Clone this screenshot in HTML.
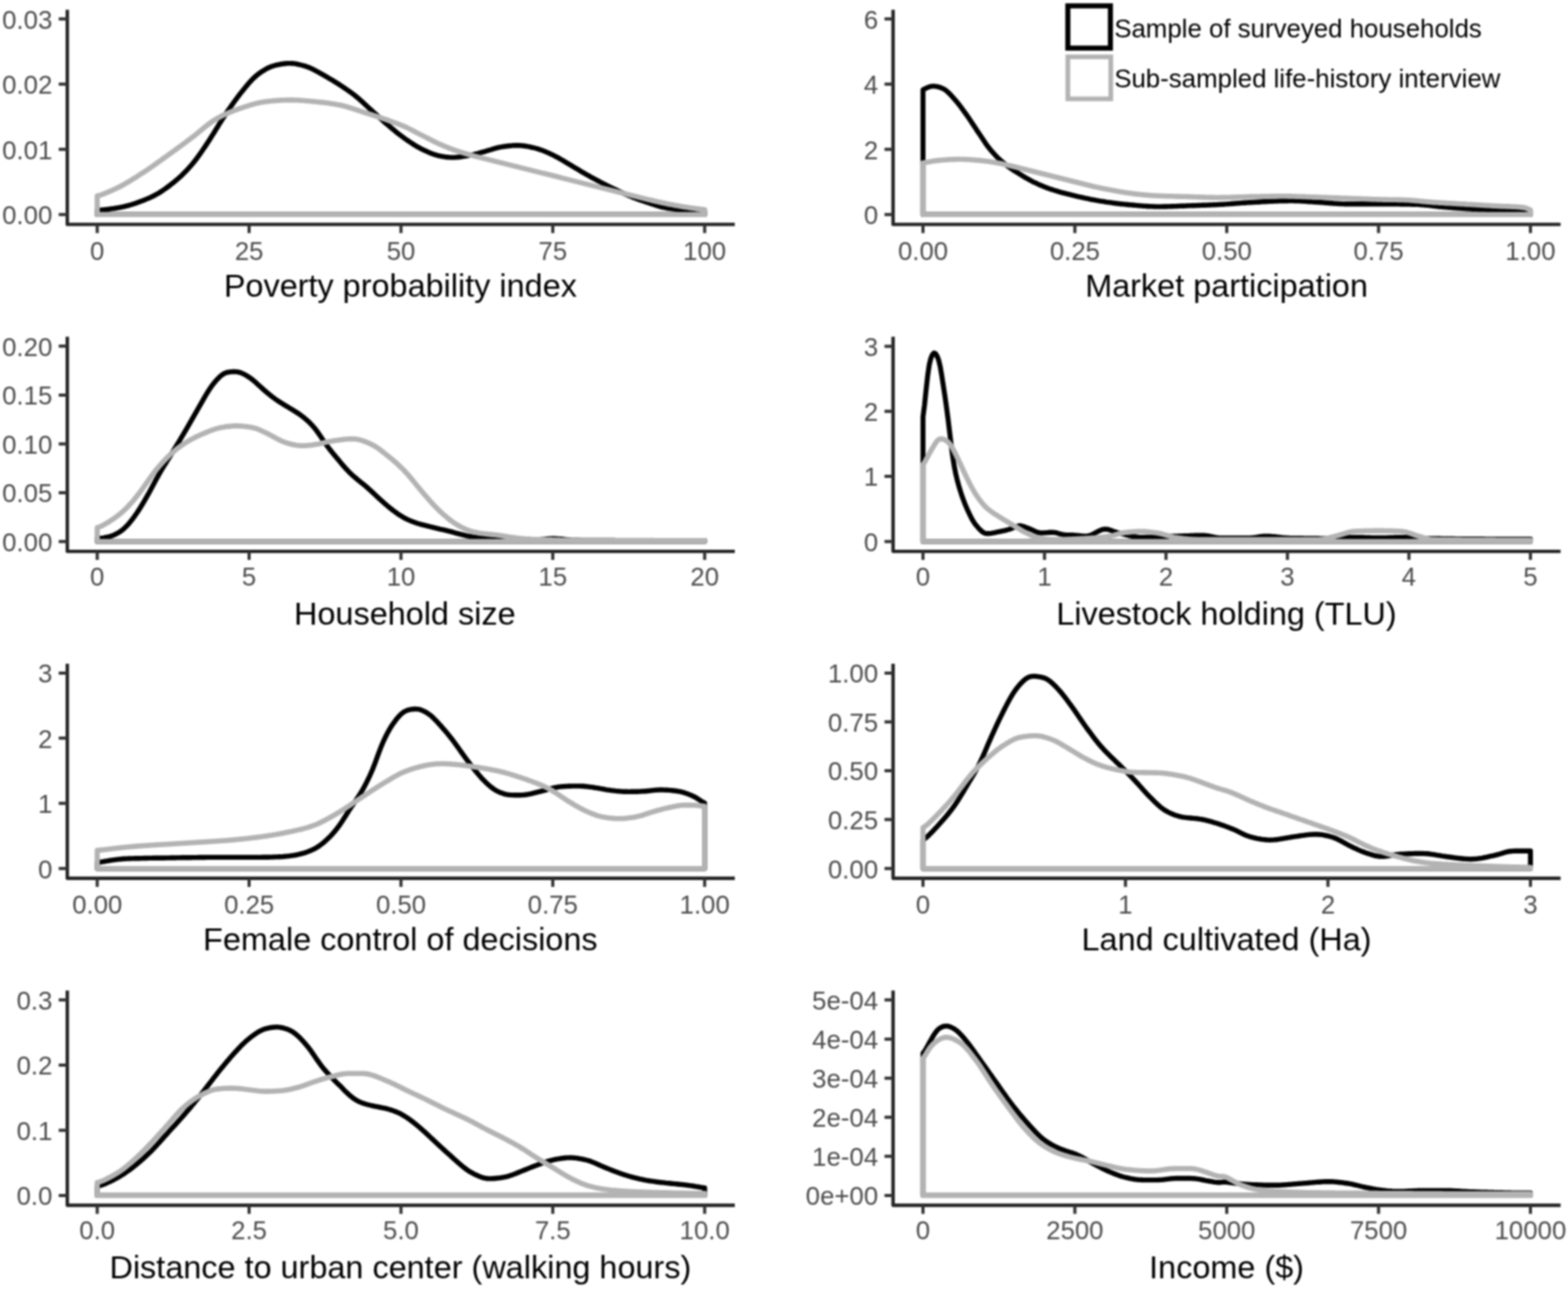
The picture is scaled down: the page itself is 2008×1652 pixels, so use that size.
<!DOCTYPE html>
<html><head><meta charset="utf-8"><title>Density plots</title><style>
html,body{margin:0;padding:0;background:#fff;}
body{width:2008px;height:1652px;overflow:hidden;}
svg{display:block;filter:blur(0.8px);}
text{font-family:"Liberation Sans",Arial,Helvetica,sans-serif;}
.tl{font-size:33.0px;fill:#4d4d4d;}
.tt{font-size:41.5px;fill:#000;}
.lg{font-size:33.1px;fill:#000;}
</style></head><body>
<svg width="2008" height="1652" viewBox="0 0 2008 1652">
<rect width="2008" height="1652" fill="#ffffff"/>
<g><path d="M124.5 274.8 L124.5 269.1 126.5 269 128.5 268.9 130.5 268.8 132.5 268.6 134.5 268.4 136.5 268.2 138.5 268 140.5 267.7 142.5 267.4 144.5 267.1 146.5 266.8 148.5 266.5 150.5 266.2 152.5 265.8 154.5 265.5 156.5 265 158.5 264.6 160.5 264.1 162.5 263.6 164.5 263.1 166.5 262.5 168.5 262 170.5 261.3 172.5 260.7 174.5 260 176.5 259.3 178.5 258.6 180.5 257.8 182.5 257.1 184.5 256.3 186.5 255.4 188.5 254.6 190.5 253.8 192.5 252.9 194.5 251.9 196.5 251 198.5 249.9 200.5 248.8 202.5 247.7 204.5 246.5 206.5 245.2 208.5 243.9 210.5 242.5 212.5 241.1 214.5 239.6 216.5 238.1 218.5 236.6 220.5 235 222.5 233.4 224.5 231.8 226.5 230.1 228.5 228.4 230.5 226.6 232.5 224.8 234.5 222.8 236.5 220.8 238.5 218.8 240.5 216.6 242.5 214.4 244.5 212.2 246.5 209.8 248.5 207.4 250.5 204.8 252.5 202.2 254.5 199.4 256.5 196.6 258.5 193.7 260.5 190.8 262.5 187.9 264.5 184.9 266.5 181.8 268.5 178.7 270.5 175.6 272.5 172.4 274.5 169.2 276.5 165.9 278.5 162.7 280.5 159.4 282.5 156.2 284.5 153 286.5 149.9 288.5 146.9 290.5 143.9 292.5 140.9 294.5 138 296.5 135.1 298.5 132.3 300.5 129.5 302.5 126.8 304.5 124.1 306.5 121.5 308.5 118.9 310.5 116.4 312.5 113.9 314.5 111.5 316.5 109.1 318.5 106.7 320.5 104.5 322.5 102.3 324.5 100.3 326.5 98.5 328.5 96.7 330.5 95.1 332.5 93.6 334.5 92.2 336.5 90.9 338.5 89.7 340.5 88.5 342.5 87.4 344.5 86.5 346.5 85.6 348.5 84.9 350.5 84.3 352.5 83.7 354.5 83.2 356.5 82.8 358.5 82.4 360.5 82 362.5 81.7 364.5 81.5 366.5 81.3 368.5 81.1 370.5 81.1 372.5 81.1 374.5 81.2 376.5 81.4 378.5 81.7 380.5 82.1 382.5 82.5 384.5 83 386.5 83.5 388.5 84 390.5 84.6 392.5 85.3 394.5 86 396.5 86.8 398.5 87.6 400.5 88.6 402.5 89.6 404.5 90.7 406.5 91.8 408.5 92.9 410.5 94 412.5 95.1 414.5 96.3 416.5 97.4 418.5 98.5 420.5 99.7 422.5 100.9 424.5 102.1 426.5 103.3 428.5 104.5 430.5 105.8 432.5 107 434.5 108.3 436.5 109.6 438.5 110.9 440.5 112.3 442.5 113.6 444.5 115 446.5 116.4 448.5 117.8 450.5 119.3 452.5 120.8 454.5 122.3 456.5 124 458.5 125.6 460.5 127.3 462.5 129.1 464.5 130.9 466.5 132.8 468.5 134.6 470.5 136.5 472.5 138.4 474.5 140.2 476.5 142 478.5 143.9 480.5 145.7 482.5 147.5 484.5 149.3 486.5 151.1 488.5 152.9 490.5 154.7 492.5 156.5 494.5 158.2 496.5 159.9 498.5 161.6 500.5 163.3 502.5 165 504.5 166.6 506.5 168.3 508.5 169.9 510.5 171.5 512.5 173 514.5 174.5 516.5 176 518.5 177.5 520.5 178.9 522.5 180.2 524.5 181.6 526.5 182.9 528.5 184.2 530.5 185.5 532.5 186.7 534.5 187.9 536.5 189 538.5 190.1 540.5 191.1 542.5 192.1 544.5 193 546.5 193.9 548.5 194.8 550.5 195.7 552.5 196.5 554.5 197.2 556.5 197.9 558.5 198.5 560.5 199.1 562.5 199.5 564.5 200 566.5 200.3 568.5 200.7 570.5 201 572.5 201.2 574.5 201.4 576.5 201.6 578.5 201.6 580.5 201.6 582.5 201.6 584.5 201.4 586.5 201.3 588.5 201 590.5 200.8 592.5 200.4 594.5 200.1 596.5 199.8 598.5 199.4 600.5 199 602.5 198.6 604.5 198.2 606.5 197.8 608.5 197.3 610.5 196.8 612.5 196.3 614.5 195.7 616.5 195.2 618.5 194.7 620.5 194.1 622.5 193.5 624.5 192.9 626.5 192.3 628.5 191.7 630.5 191.1 632.5 190.4 634.5 189.9 636.5 189.3 638.5 188.8 640.5 188.4 642.5 188.1 644.5 187.7 646.5 187.5 648.5 187.2 650.5 187 652.5 186.8 654.5 186.6 656.5 186.4 658.5 186.3 660.5 186.2 662.5 186.2 664.5 186.3 666.5 186.4 668.5 186.5 670.5 186.8 672.5 187 674.5 187.4 676.5 187.7 678.5 188.1 680.5 188.6 682.5 189 684.5 189.5 686.5 190 688.5 190.6 690.5 191.2 692.5 191.9 694.5 192.6 696.5 193.4 698.5 194.2 700.5 195.1 702.5 195.9 704.5 196.8 706.5 197.8 708.5 198.7 710.5 199.8 712.5 200.8 714.5 201.9 716.5 203 718.5 204.2 720.5 205.3 722.5 206.5 724.5 207.7 726.5 208.9 728.5 210.1 730.5 211.2 732.5 212.5 734.5 213.7 736.5 214.9 738.5 216.1 740.5 217.3 742.5 218.5 744.5 219.7 746.5 220.9 748.5 222 750.5 223.2 752.5 224.3 754.5 225.4 756.5 226.6 758.5 227.7 760.5 228.7 762.5 229.8 764.5 230.9 766.5 231.9 768.5 233 770.5 234 772.5 235.1 774.5 236.1 776.5 237.1 778.5 238.1 780.5 239.1 782.5 240.1 784.5 241 786.5 242 788.5 242.9 790.5 243.9 792.5 244.8 794.5 245.8 796.5 246.7 798.5 247.6 800.5 248.5 802.5 249.4 804.5 250.2 806.5 251.1 808.5 251.9 810.5 252.7 812.5 253.5 814.5 254.2 816.5 255 818.5 255.7 820.5 256.4 822.5 257.1 824.5 257.8 826.5 258.5 828.5 259.1 830.5 259.8 832.5 260.5 834.5 261.1 836.5 261.8 838.5 262.4 840.5 263.1 842.5 263.7 844.5 264.3 846.5 264.8 848.5 265.3 850.5 265.7 852.5 266.1 854.5 266.5 856.5 266.8 858.5 267.1 860.5 267.4 862.5 267.6 864.5 267.9 866.5 268.1 868.5 268.3 870.5 268.5 872.5 268.7 874.5 268.8 876.5 269 878.5 269.1 880.5 269.2 882.5 269.3 884.5 269.4 886.5 269.5 888.5 269.6 890.5 269.7 892.5 269.8 894.5 270 896.5 270.2 898.5 270.5 900.5 270.7 902.4 271 L902.4 274.8 Z" fill="none" stroke="#000000" stroke-width="6.4" stroke-linejoin="round"/><path d="M124.5 274.8 L124.5 250.8 126.5 250.4 128.5 249.8 130.5 249.2 132.5 248.4 134.5 247.6 136.5 246.8 138.5 246 140.5 245.1 142.5 244.2 144.5 243.3 146.5 242.4 148.5 241.5 150.5 240.5 152.5 239.5 154.5 238.5 156.5 237.4 158.5 236.3 160.5 235.2 162.5 234 164.5 232.9 166.5 231.7 168.5 230.4 170.5 229.2 172.5 228 174.5 226.7 176.5 225.4 178.5 224.1 180.5 222.8 182.5 221.5 184.5 220.2 186.5 218.9 188.5 217.6 190.5 216.2 192.5 214.8 194.5 213.5 196.5 212.1 198.5 210.6 200.5 209.2 202.5 207.8 204.5 206.4 206.5 204.9 208.5 203.5 210.5 202 212.5 200.6 214.5 199.2 216.5 197.7 218.5 196.3 220.5 194.9 222.5 193.4 224.5 192 226.5 190.5 228.5 189 230.5 187.6 232.5 186.1 234.5 184.6 236.5 183.2 238.5 181.7 240.5 180.2 242.5 178.7 244.5 177.2 246.5 175.7 248.5 174.1 250.5 172.5 252.5 170.9 254.5 169.2 256.5 167.6 258.5 165.9 260.5 164.3 262.5 162.6 264.5 161 266.5 159.5 268.5 158 270.5 156.5 272.5 155.1 274.5 153.8 276.5 152.6 278.5 151.5 280.5 150.4 282.5 149.3 284.5 148.3 286.5 147.3 288.5 146.4 290.5 145.5 292.5 144.6 294.5 143.7 296.5 142.9 298.5 142.1 300.5 141.3 302.5 140.6 304.5 139.9 306.5 139.2 308.5 138.5 310.5 137.8 312.5 137.2 314.5 136.5 316.5 135.8 318.5 135.2 320.5 134.6 322.5 134 324.5 133.4 326.5 132.9 328.5 132.3 330.5 131.9 332.5 131.4 334.5 131 336.5 130.7 338.5 130.4 340.5 130.1 342.5 129.9 344.5 129.7 346.5 129.5 348.5 129.3 350.5 129.1 352.5 128.9 354.5 128.8 356.5 128.6 358.5 128.5 360.5 128.4 362.5 128.3 364.5 128.2 366.5 128.1 368.5 128.1 370.5 128.1 372.5 128.1 374.5 128.1 376.5 128.1 378.5 128.2 380.5 128.3 382.5 128.4 384.5 128.5 386.5 128.7 388.5 128.8 390.5 129 392.5 129.2 394.5 129.3 396.5 129.5 398.5 129.7 400.5 129.9 402.5 130.1 404.5 130.3 406.5 130.5 408.5 130.7 410.5 130.9 412.5 131.1 414.5 131.3 416.5 131.6 418.5 131.8 420.5 132.1 422.5 132.4 424.5 132.7 426.5 133 428.5 133.3 430.5 133.7 432.5 134 434.5 134.4 436.5 134.8 438.5 135.3 440.5 135.8 442.5 136.3 444.5 136.9 446.5 137.5 448.5 138.1 450.5 138.7 452.5 139.4 454.5 140 456.5 140.7 458.5 141.4 460.5 142 462.5 142.7 464.5 143.3 466.5 144 468.5 144.6 470.5 145.2 472.5 145.9 474.5 146.5 476.5 147.2 478.5 147.8 480.5 148.5 482.5 149.1 484.5 149.8 486.5 150.5 488.5 151.1 490.5 151.8 492.5 152.5 494.5 153.2 496.5 153.9 498.5 154.6 500.5 155.4 502.5 156.1 504.5 156.8 506.5 157.5 508.5 158.2 510.5 159 512.5 159.8 514.5 160.6 516.5 161.4 518.5 162.2 520.5 163.1 522.5 164.1 524.5 165.1 526.5 166.1 528.5 167.2 530.5 168.3 532.5 169.3 534.5 170.4 536.5 171.4 538.5 172.4 540.5 173.4 542.5 174.4 544.5 175.4 546.5 176.4 548.5 177.5 550.5 178.5 552.5 179.5 554.5 180.5 556.5 181.5 558.5 182.5 560.5 183.4 562.5 184.4 564.5 185.2 566.5 186.1 568.5 187 570.5 187.8 572.5 188.6 574.5 189.4 576.5 190.2 578.5 190.9 580.5 191.6 582.5 192.3 584.5 193 586.5 193.7 588.5 194.4 590.5 195 592.5 195.6 594.5 196.2 596.5 196.8 598.5 197.4 600.5 197.9 602.5 198.5 604.5 199 606.5 199.6 608.5 200.1 610.5 200.6 612.5 201.1 614.5 201.6 616.5 202.1 618.5 202.6 620.5 203.1 622.5 203.6 624.5 204.1 626.5 204.6 628.5 205.1 630.5 205.6 632.5 206.1 634.5 206.6 636.5 207.1 638.5 207.6 640.5 208.1 642.5 208.6 644.5 209.1 646.5 209.6 648.5 210.1 650.5 210.6 652.5 211.1 654.5 211.6 656.5 212.1 658.5 212.6 660.5 213.1 662.5 213.6 664.5 214.1 666.5 214.6 668.5 215.1 670.5 215.6 672.5 216.1 674.5 216.6 676.5 217.1 678.5 217.6 680.5 218.1 682.5 218.6 684.5 219.1 686.5 219.6 688.5 220.1 690.5 220.6 692.5 221.1 694.5 221.6 696.5 222.1 698.5 222.5 700.5 223 702.5 223.5 704.5 224 706.5 224.5 708.5 225 710.5 225.5 712.5 226 714.5 226.5 716.5 227 718.5 227.6 720.5 228.1 722.5 228.6 724.5 229.1 726.5 229.6 728.5 230.1 730.5 230.6 732.5 231.1 734.5 231.6 736.5 232.1 738.5 232.6 740.5 233.1 742.5 233.6 744.5 234.1 746.5 234.6 748.5 235.1 750.5 235.6 752.5 236.1 754.5 236.6 756.5 237.1 758.5 237.6 760.5 238.1 762.5 238.6 764.5 239.1 766.5 239.6 768.5 240.1 770.5 240.6 772.5 241.1 774.5 241.6 776.5 242.1 778.5 242.6 780.5 243.1 782.5 243.6 784.5 244.1 786.5 244.6 788.5 245.1 790.5 245.6 792.5 246.1 794.5 246.6 796.5 247.1 798.5 247.6 800.5 248.1 802.5 248.6 804.5 249.1 806.5 249.6 808.5 250.1 810.5 250.6 812.5 251.1 814.5 251.6 816.5 252.1 818.5 252.6 820.5 253.1 822.5 253.6 824.5 254.1 826.5 254.6 828.5 255.1 830.5 255.6 832.5 256.1 834.5 256.5 836.5 257 838.5 257.5 840.5 257.9 842.5 258.4 844.5 258.8 846.5 259.3 848.5 259.7 850.5 260.1 852.5 260.6 854.5 261 856.5 261.4 858.5 261.8 860.5 262.1 862.5 262.5 864.5 262.9 866.5 263.3 868.5 263.6 870.5 264 872.5 264.3 874.5 264.7 876.5 265 878.5 265.3 880.5 265.6 882.5 265.9 884.5 266.2 886.5 266.5 888.5 266.8 890.5 267.1 892.5 267.4 894.5 267.6 896.5 267.9 898.5 268.1 900.5 268.3 902.4 268.5 L902.4 274.8 Z" fill="none" stroke="#b3b3b3" stroke-width="6.6" stroke-linejoin="round"/><path d="M86.2 12.5 V287.4 H941" fill="none" stroke="#222" stroke-width="4.4" stroke-linejoin="round" stroke-linecap="butt"/><text x="67" y="287.1" text-anchor="end" class="tl">0.00</text><text x="67" y="203.6" text-anchor="end" class="tl">0.01</text><text x="67" y="120" text-anchor="end" class="tl">0.02</text><text x="67" y="36.5" text-anchor="end" class="tl">0.03</text><text x="124.5" y="332.6" text-anchor="middle" class="tl">0</text><text x="319" y="332.6" text-anchor="middle" class="tl">25</text><text x="513.5" y="332.6" text-anchor="middle" class="tl">50</text><text x="707.9" y="332.6" text-anchor="middle" class="tl">75</text><text x="902.4" y="332.6" text-anchor="middle" class="tl">100</text><path d="M75.2 274.8H86.2 M75.2 191.3H86.2 M75.2 107.7H86.2 M75.2 24.2H86.2 M124.5 287.4V298.4 M319 287.4V298.4 M513.5 287.4V298.4 M707.9 287.4V298.4 M902.4 287.4V298.4" stroke="#333" stroke-width="4.0" fill="none"/><text x="512.7" y="380.3" text-anchor="middle" class="tt">Poverty probability index</text></g>
<g><path d="M1182 274.8 L1182 114.8 1184 113.9 1186 113 1188 112 1190 111.3 1192 110.7 1194 110.4 1196 110.4 1198 110.6 1200 110.9 1202 111.4 1204 112 1206 112.8 1208 113.7 1210 114.8 1212 116.3 1214 118.1 1216 120 1218 122.2 1220 124.4 1222 126.6 1224 128.9 1226 131.3 1228 133.8 1230 136.4 1232 139.1 1234 141.8 1236 144.6 1238 147.4 1240 150.3 1242 153.2 1244 156.2 1246 159.3 1248 162.3 1250 165.3 1252 168.4 1254 171.3 1256 174.3 1258 177.3 1260 180.3 1262 183.3 1264 186.1 1266 188.8 1268 191.3 1270 193.7 1272 195.9 1274 198.1 1276 200.2 1278 202.2 1280 204.1 1282 205.9 1284 207.6 1286 209.3 1288 210.9 1290 212.4 1292 213.9 1294 215.3 1296 216.7 1298 218 1300 219.3 1302 220.6 1304 221.8 1306 223.1 1308 224.3 1310 225.5 1312 226.7 1314 227.9 1316 229 1318 230.1 1320 231.2 1322 232.3 1324 233.3 1326 234.2 1328 235.2 1330 236.1 1332 237 1334 237.8 1336 238.6 1338 239.5 1340 240.2 1342 241 1344 241.7 1346 242.4 1348 243 1350 243.7 1352 244.3 1354 244.9 1356 245.5 1358 246.1 1360 246.6 1362 247.2 1364 247.7 1366 248.2 1368 248.7 1370 249.2 1372 249.7 1374 250.2 1376 250.7 1378 251.1 1380 251.6 1382 252 1384 252.5 1386 252.9 1388 253.4 1390 253.8 1392 254.2 1394 254.6 1396 255.1 1398 255.5 1400 255.8 1402 256.2 1404 256.6 1406 256.9 1408 257.3 1410 257.6 1412 257.9 1414 258.2 1416 258.6 1418 258.9 1420 259.1 1422 259.4 1424 259.7 1426 260 1428 260.2 1430 260.5 1432 260.7 1434 261 1436 261.2 1438 261.4 1440 261.6 1442 261.8 1444 262 1446 262.2 1448 262.4 1450 262.5 1452 262.7 1454 262.9 1456 263.1 1458 263.3 1460 263.4 1462 263.6 1464 263.8 1466 263.9 1468 264 1470 264.2 1472 264.3 1474 264.4 1476 264.4 1478 264.5 1480 264.6 1482 264.6 1484 264.6 1486 264.6 1488 264.6 1490 264.5 1492 264.5 1494 264.5 1496 264.4 1498 264.4 1500 264.3 1502 264.2 1504 264.1 1506 264.1 1508 264 1510 263.9 1512 263.8 1514 263.7 1516 263.7 1518 263.6 1520 263.5 1522 263.4 1524 263.4 1526 263.3 1528 263.2 1530 263.2 1532 263.1 1534 263 1536 263 1538 262.9 1540 262.8 1542 262.8 1544 262.7 1546 262.6 1548 262.5 1550 262.5 1552 262.4 1554 262.3 1556 262.2 1558 262.1 1560 262 1562 261.9 1564 261.8 1566 261.7 1568 261.6 1570 261.4 1572 261.3 1574 261.1 1576 261 1578 260.8 1580 260.7 1582 260.5 1584 260.4 1586 260.2 1588 260.1 1590 259.9 1592 259.8 1594 259.7 1596 259.5 1598 259.4 1600 259.3 1602 259.2 1604 259.1 1606 259 1608 258.9 1610 258.8 1612 258.7 1614 258.5 1616 258.4 1618 258.3 1620 258.2 1622 258.1 1624 258 1626 257.9 1628 257.8 1630 257.7 1632 257.6 1634 257.6 1636 257.5 1638 257.4 1640 257.3 1642 257.3 1644 257.2 1646 257.2 1648 257.2 1650 257.1 1652 257.1 1654 257.1 1656 257.1 1658 257.2 1660 257.2 1662 257.3 1664 257.4 1666 257.5 1668 257.6 1670 257.7 1672 257.9 1674 258 1676 258.2 1678 258.3 1680 258.4 1682 258.6 1684 258.7 1686 258.8 1688 259 1690 259.1 1692 259.2 1694 259.4 1696 259.5 1698 259.7 1700 259.8 1702 260 1704 260.2 1706 260.3 1708 260.5 1710 260.6 1712 260.7 1714 260.9 1716 261 1718 261.1 1720 261.1 1722 261.2 1724 261.3 1726 261.3 1728 261.3 1730 261.3 1732 261.3 1734 261.3 1736 261.3 1738 261.3 1740 261.3 1742 261.3 1744 261.3 1746 261.3 1748 261.3 1750 261.3 1752 261.3 1754 261.3 1756 261.3 1758 261.3 1760 261.3 1762 261.3 1764 261.3 1766 261.3 1768 261.3 1770 261.3 1772 261.3 1774 261.3 1776 261.3 1778 261.3 1780 261.3 1782 261.3 1784 261.4 1786 261.4 1788 261.4 1790 261.4 1792 261.4 1794 261.5 1796 261.5 1798 261.5 1800 261.5 1802 261.6 1804 261.6 1806 261.6 1808 261.7 1810 261.7 1812 261.7 1814 261.8 1816 261.9 1818 262 1820 262.2 1822 262.3 1824 262.5 1826 262.7 1828 262.9 1830 263.1 1832 263.3 1834 263.6 1836 263.8 1838 264 1840 264.2 1842 264.5 1844 264.7 1846 264.9 1848 265.1 1850 265.3 1852 265.4 1854 265.6 1856 265.7 1858 265.9 1860 266 1862 266.2 1864 266.3 1866 266.5 1868 266.6 1870 266.7 1872 266.9 1874 267 1876 267.1 1878 267.3 1880 267.4 1882 267.5 1884 267.6 1886 267.7 1888 267.8 1890 267.9 1892 267.9 1894 268 1896 268 1898 268.1 1900 268.1 1902 268.1 1904 268.2 1906 268.2 1908 268.2 1910 268.2 1912 268.2 1914 268.3 1916 268.3 1918 268.3 1920 268.3 1922 268.3 1924 268.4 1926 268.4 1928 268.4 1930 268.5 1932 268.5 1934 268.5 1936 268.6 1938 268.7 1940 268.8 1942 268.9 1944 269 1946 269.2 1948 269.4 1950 269.6 1952 269.8 1954 270 1956 270.2 1958 270.4 1959.9 270.6 L1959.9 274.8 Z" fill="none" stroke="#000000" stroke-width="6.4" stroke-linejoin="round"/><path d="M1182 274.8 L1182 208.5 1184 208.3 1186 207.9 1188 207.6 1190 207.2 1192 206.8 1194 206.5 1196 206.1 1198 205.9 1200 205.6 1202 205.4 1204 205.2 1206 205 1208 204.9 1210 204.7 1212 204.6 1214 204.4 1216 204.3 1218 204.2 1220 204.1 1222 204.1 1224 204 1226 204 1228 203.9 1230 204 1232 204 1234 204 1236 204.1 1238 204.2 1240 204.3 1242 204.5 1244 204.6 1246 204.8 1248 204.9 1250 205.1 1252 205.3 1254 205.4 1256 205.6 1258 205.8 1260 206.1 1262 206.3 1264 206.6 1266 206.8 1268 207.1 1270 207.4 1272 207.7 1274 208 1276 208.4 1278 208.8 1280 209.2 1282 209.6 1284 210 1286 210.5 1288 210.9 1290 211.4 1292 211.9 1294 212.3 1296 212.8 1298 213.3 1300 213.8 1302 214.3 1304 214.8 1306 215.3 1308 215.8 1310 216.3 1312 216.8 1314 217.3 1316 217.8 1318 218.3 1320 218.8 1322 219.3 1324 219.8 1326 220.3 1328 220.8 1330 221.3 1332 221.8 1334 222.3 1336 222.8 1338 223.3 1340 223.8 1342 224.3 1344 224.8 1346 225.3 1348 225.8 1350 226.3 1352 226.8 1354 227.3 1356 227.8 1358 228.3 1360 228.8 1362 229.3 1364 229.8 1366 230.3 1368 230.8 1370 231.3 1372 231.8 1374 232.3 1376 232.8 1378 233.3 1380 233.8 1382 234.3 1384 234.8 1386 235.3 1388 235.8 1390 236.3 1392 236.8 1394 237.3 1396 237.8 1398 238.3 1400 238.8 1402 239.2 1404 239.6 1406 240.1 1408 240.5 1410 240.9 1412 241.3 1414 241.7 1416 242.1 1418 242.4 1420 242.8 1422 243.2 1424 243.6 1426 243.9 1428 244.3 1430 244.7 1432 245 1434 245.4 1436 245.7 1438 246.1 1440 246.4 1442 246.7 1444 247.1 1446 247.3 1448 247.6 1450 247.9 1452 248.1 1454 248.4 1456 248.6 1458 248.8 1460 249 1462 249.2 1464 249.4 1466 249.6 1468 249.7 1470 249.9 1472 250.1 1474 250.2 1476 250.4 1478 250.5 1480 250.6 1482 250.7 1484 250.8 1486 250.9 1488 251 1490 251 1492 251.1 1494 251.2 1496 251.2 1498 251.3 1500 251.3 1502 251.4 1504 251.5 1506 251.5 1508 251.6 1510 251.6 1512 251.7 1514 251.7 1516 251.7 1518 251.8 1520 251.8 1522 251.9 1524 252 1526 252 1528 252.1 1530 252.2 1532 252.2 1534 252.3 1536 252.4 1538 252.5 1540 252.5 1542 252.6 1544 252.7 1546 252.8 1548 252.8 1550 252.9 1552 252.9 1554 252.9 1556 253 1558 253 1560 253 1562 253 1564 252.9 1566 252.9 1568 252.9 1570 252.8 1572 252.8 1574 252.7 1576 252.7 1578 252.6 1580 252.6 1582 252.5 1584 252.4 1586 252.4 1588 252.3 1590 252.2 1592 252.2 1594 252.1 1596 252 1598 252 1600 251.9 1602 251.9 1604 251.9 1606 251.8 1608 251.8 1610 251.7 1612 251.7 1614 251.7 1616 251.6 1618 251.6 1620 251.6 1622 251.5 1624 251.5 1626 251.5 1628 251.4 1630 251.4 1632 251.4 1634 251.4 1636 251.3 1638 251.3 1640 251.3 1642 251.3 1644 251.3 1646 251.3 1648 251.3 1650 251.4 1652 251.4 1654 251.4 1656 251.5 1658 251.5 1660 251.6 1662 251.7 1664 251.7 1666 251.8 1668 251.9 1670 251.9 1672 252 1674 252.1 1676 252.2 1678 252.2 1680 252.3 1682 252.4 1684 252.4 1686 252.5 1688 252.6 1690 252.6 1692 252.7 1694 252.8 1696 252.9 1698 252.9 1700 253 1702 253.1 1704 253.1 1706 253.2 1708 253.3 1710 253.4 1712 253.4 1714 253.5 1716 253.6 1718 253.7 1720 253.7 1722 253.8 1724 253.9 1726 254 1728 254 1730 254.1 1732 254.2 1734 254.3 1736 254.3 1738 254.4 1740 254.5 1742 254.6 1744 254.6 1746 254.7 1748 254.8 1750 254.9 1752 254.9 1754 255 1756 255.1 1758 255.2 1760 255.2 1762 255.3 1764 255.4 1766 255.4 1768 255.5 1770 255.5 1772 255.6 1774 255.6 1776 255.6 1778 255.7 1780 255.7 1782 255.7 1784 255.8 1786 255.8 1788 255.8 1790 255.9 1792 255.9 1794 255.9 1796 256 1798 256 1800 256.1 1802 256.2 1804 256.3 1806 256.4 1808 256.6 1810 256.7 1812 256.9 1814 257.1 1816 257.3 1818 257.5 1820 257.7 1822 257.9 1824 258.1 1826 258.3 1828 258.5 1830 258.6 1832 258.8 1834 258.9 1836 259.1 1838 259.2 1840 259.3 1842 259.5 1844 259.6 1846 259.7 1848 259.8 1850 259.9 1852 260.1 1854 260.2 1856 260.3 1858 260.4 1860 260.5 1862 260.6 1864 260.7 1866 260.9 1868 261 1870 261.1 1872 261.2 1874 261.3 1876 261.4 1878 261.6 1880 261.7 1882 261.8 1884 261.9 1886 262 1888 262.1 1890 262.3 1892 262.4 1894 262.5 1896 262.6 1898 262.7 1900 262.9 1902 263 1904 263.1 1906 263.2 1908 263.3 1910 263.5 1912 263.6 1914 263.7 1916 263.8 1918 263.9 1920 264 1922 264.1 1924 264.2 1926 264.2 1928 264.3 1930 264.4 1932 264.4 1934 264.5 1936 264.6 1938 264.7 1940 264.8 1942 264.9 1944 265 1946 265.2 1948 265.4 1950 265.6 1952 265.9 1954 266.4 1956 267.2 1958 268.1 1959.9 269 L1959.9 274.8 Z" fill="none" stroke="#b3b3b3" stroke-width="6.6" stroke-linejoin="round"/><path d="M1143.7 12.5 V287.4 H1998.5" fill="none" stroke="#222" stroke-width="4.4" stroke-linejoin="round" stroke-linecap="butt"/><text x="1124.5" y="287.1" text-anchor="end" class="tl">0</text><text x="1124.5" y="203.6" text-anchor="end" class="tl">2</text><text x="1124.5" y="120" text-anchor="end" class="tl">4</text><text x="1124.5" y="36.5" text-anchor="end" class="tl">6</text><text x="1182" y="332.6" text-anchor="middle" class="tl">0.00</text><text x="1376.5" y="332.6" text-anchor="middle" class="tl">0.25</text><text x="1571" y="332.6" text-anchor="middle" class="tl">0.50</text><text x="1765.4" y="332.6" text-anchor="middle" class="tl">0.75</text><text x="1959.9" y="332.6" text-anchor="middle" class="tl">1.00</text><path d="M1132.7 274.8H1143.7 M1132.7 191.3H1143.7 M1132.7 107.7H1143.7 M1132.7 24.2H1143.7 M1182 287.4V298.4 M1376.5 287.4V298.4 M1571 287.4V298.4 M1765.4 287.4V298.4 M1959.9 287.4V298.4" stroke="#333" stroke-width="4.0" fill="none"/><text x="1570.7" y="380.3" text-anchor="middle" class="tt">Market participation</text></g>
<g><path d="M124.5 693.5 L124.5 689.6 126.5 689.5 128.5 689.3 130.5 689.1 132.5 688.8 134.5 688.4 136.5 688 138.5 687.5 140.5 687 142.5 686.4 144.5 685.7 146.5 684.8 148.5 683.9 150.5 682.8 152.5 681.7 154.5 680.3 156.5 678.9 158.5 677.2 160.5 675.3 162.5 673.3 164.5 671.1 166.5 668.7 168.5 666.2 170.5 663.6 172.5 660.9 174.5 658 176.5 655.1 178.5 652 180.5 648.8 182.5 645.5 184.5 642.2 186.5 638.7 188.5 635.2 190.5 631.7 192.5 628 194.5 624.3 196.5 620.6 198.5 616.8 200.5 613.1 202.5 609.5 204.5 605.9 206.5 602.5 208.5 599.2 210.5 595.9 212.5 592.7 214.5 589.4 216.5 586.2 218.5 583 220.5 579.8 222.5 576.5 224.5 573.2 226.5 569.9 228.5 566.6 230.5 563.3 232.5 559.9 234.5 556.6 236.5 553.2 238.5 549.8 240.5 546.4 242.5 542.9 244.5 539.4 246.5 535.9 248.5 532.4 250.5 528.9 252.5 525.4 254.5 521.9 256.5 518.4 258.5 514.9 260.5 511.4 262.5 507.9 264.5 504.5 266.5 501.3 268.5 498.1 270.5 495.2 272.5 492.5 274.5 490 276.5 487.6 278.5 485.4 280.5 483.4 282.5 481.5 284.5 480 286.5 478.7 288.5 477.7 290.5 477 292.5 476.6 294.5 476.3 296.5 476.1 298.5 476 300.5 475.9 302.5 476.1 304.5 476.3 306.5 476.8 308.5 477.4 310.5 478.3 312.5 479.2 314.5 480.3 316.5 481.5 318.5 482.8 320.5 484.1 322.5 485.6 324.5 487.2 326.5 488.9 328.5 490.7 330.5 492.6 332.5 494.4 334.5 496.2 336.5 498 338.5 499.8 340.5 501.5 342.5 503.2 344.5 504.8 346.5 506.4 348.5 508 350.5 509.5 352.5 511 354.5 512.4 356.5 513.7 358.5 515 360.5 516.3 362.5 517.5 364.5 518.7 366.5 519.9 368.5 521.1 370.5 522.4 372.5 523.6 374.5 524.8 376.5 526 378.5 527.2 380.5 528.5 382.5 529.8 384.5 531.2 386.5 532.7 388.5 534.2 390.5 535.9 392.5 537.6 394.5 539.4 396.5 541.3 398.5 543.4 400.5 545.5 402.5 547.8 404.5 550.3 406.5 553 408.5 555.8 410.5 558.7 412.5 561.7 414.5 564.7 416.5 567.7 418.5 570.5 420.5 573.2 422.5 575.8 424.5 578.3 426.5 580.7 428.5 583.1 430.5 585.5 432.5 587.9 434.5 590.3 436.5 592.7 438.5 595.1 440.5 597.4 442.5 599.7 444.5 601.8 446.5 603.9 448.5 605.9 450.5 607.8 452.5 609.6 454.5 611.3 456.5 613 458.5 614.7 460.5 616.3 462.5 617.9 464.5 619.5 466.5 621.1 468.5 622.8 470.5 624.5 472.5 626.3 474.5 628.1 476.5 630 478.5 631.8 480.5 633.7 482.5 635.6 484.5 637.5 486.5 639.3 488.5 641.1 490.5 642.9 492.5 644.7 494.5 646.4 496.5 648.1 498.5 649.8 500.5 651.4 502.5 652.9 504.5 654.5 506.5 655.9 508.5 657.4 510.5 658.8 512.5 660.1 514.5 661.3 516.5 662.5 518.5 663.6 520.5 664.6 522.5 665.6 524.5 666.4 526.5 667.3 528.5 668.1 530.5 668.8 532.5 669.5 534.5 670.2 536.5 670.8 538.5 671.4 540.5 671.9 542.5 672.4 544.5 672.9 546.5 673.4 548.5 673.9 550.5 674.4 552.5 674.8 554.5 675.3 556.5 675.8 558.5 676.3 560.5 676.8 562.5 677.3 564.5 677.8 566.5 678.2 568.5 678.7 570.5 679.2 572.5 679.7 574.5 680.2 576.5 680.7 578.5 681.2 580.5 681.7 582.5 682.3 584.5 682.8 586.5 683.3 588.5 683.9 590.5 684.4 592.5 684.9 594.5 685.4 596.5 685.9 598.5 686.3 600.5 686.7 602.5 687 604.5 687.4 606.5 687.7 608.5 688 610.5 688.2 612.5 688.5 614.5 688.7 616.5 688.9 618.5 689.1 620.5 689.3 622.5 689.5 624.5 689.7 626.5 689.9 628.5 690.1 630.5 690.3 632.5 690.5 634.5 690.6 636.5 690.8 638.5 691 640.5 691.1 642.5 691.3 644.5 691.4 646.5 691.5 648.5 691.6 650.5 691.7 652.5 691.7 654.5 691.7 656.5 691.8 658.5 691.8 660.5 691.8 662.5 691.8 664.5 691.8 666.5 691.8 668.5 691.8 670.5 691.8 672.5 691.8 674.5 691.8 676.5 691.8 678.5 691.8 680.5 691.8 682.5 691.8 684.5 691.7 686.5 691.6 688.5 691.5 690.5 691.3 692.5 691 694.5 690.8 696.5 690.6 698.5 690.4 700.5 690.2 702.5 690 704.5 689.9 706.5 689.8 708.5 689.8 710.5 689.8 712.5 689.9 714.5 690 716.5 690.1 718.5 690.2 720.5 690.4 722.5 690.7 724.5 690.9 726.5 691.1 728.5 691.3 730.5 691.5 732.5 691.6 734.5 691.7 736.5 691.8 738.5 691.8 740.5 691.8 742.5 691.8 744.5 691.9 746.5 691.9 748.5 691.9 750.5 691.9 752.5 691.9 754.5 691.9 756.5 691.9 758.5 691.9 760.5 691.9 762.5 692 764.5 692 766.5 692 768.5 692 770.5 692 772.5 692 774.5 692 776.5 692 778.5 692 780.5 692 782.5 692 784.5 692 786.5 692 788.5 692.1 790.5 692.1 792.5 692.1 794.5 692.1 796.5 692.1 798.5 692.1 800.5 692.1 802.5 692.1 804.5 692.1 806.5 692.1 808.5 692.1 810.5 692.1 812.5 692.1 814.5 692.1 816.5 692.1 818.5 692.1 820.5 692.1 822.5 692.1 824.5 692.1 826.5 692.1 828.5 692.2 830.5 692.2 832.5 692.2 834.5 692.2 836.5 692.2 838.5 692.2 840.5 692.2 842.5 692.2 844.5 692.2 846.5 692.2 848.5 692.2 850.5 692.2 852.5 692.2 854.5 692.2 856.5 692.2 858.5 692.2 860.5 692.2 862.5 692.2 864.5 692.2 866.5 692.2 868.5 692.2 870.5 692.2 872.5 692.2 874.5 692.2 876.5 692.2 878.5 692.2 880.5 692.2 882.5 692.2 884.5 692.2 886.5 692.2 888.5 692.2 890.5 692.2 892.5 692.2 894.5 692.2 896.5 692.2 898.5 692.2 900.5 692.2 902.4 692.2 L902.4 693.5 Z" fill="none" stroke="#000000" stroke-width="6.4" stroke-linejoin="round"/><path d="M124.5 693.5 L124.5 675.7 126.5 675.1 128.5 674.3 130.5 673.4 132.5 672.3 134.5 671.2 136.5 670.1 138.5 668.8 140.5 667.6 142.5 666.3 144.5 665 146.5 663.6 148.5 662.1 150.5 660.6 152.5 659.1 154.5 657.4 156.5 655.7 158.5 653.9 160.5 652.1 162.5 650.1 164.5 648 166.5 645.8 168.5 643.6 170.5 641.3 172.5 638.9 174.5 636.4 176.5 633.9 178.5 631.3 180.5 628.7 182.5 625.9 184.5 623 186.5 620.2 188.5 617.3 190.5 614.4 192.5 611.6 194.5 608.8 196.5 606.2 198.5 603.6 200.5 601.1 202.5 598.7 204.5 596.4 206.5 594.1 208.5 591.8 210.5 589.6 212.5 587.6 214.5 585.5 216.5 583.6 218.5 581.7 220.5 579.9 222.5 578.2 224.5 576.5 226.5 574.9 228.5 573.4 230.5 571.9 232.5 570.4 234.5 569 236.5 567.7 238.5 566.4 240.5 565.2 242.5 564.1 244.5 562.9 246.5 561.9 248.5 560.8 250.5 559.8 252.5 558.8 254.5 557.9 256.5 557 258.5 556.1 260.5 555.3 262.5 554.4 264.5 553.6 266.5 552.8 268.5 552 270.5 551.2 272.5 550.5 274.5 549.8 276.5 549.2 278.5 548.6 280.5 548.1 282.5 547.7 284.5 547.3 286.5 547 288.5 546.6 290.5 546.3 292.5 546.1 294.5 545.9 296.5 545.7 298.5 545.5 300.5 545.4 302.5 545.4 304.5 545.4 306.5 545.5 308.5 545.6 310.5 545.8 312.5 546 314.5 546.2 316.5 546.4 318.5 546.7 320.5 547 322.5 547.4 324.5 547.8 326.5 548.4 328.5 549 330.5 549.7 332.5 550.6 334.5 551.5 336.5 552.4 338.5 553.4 340.5 554.3 342.5 555.3 344.5 556.3 346.5 557.4 348.5 558.4 350.5 559.5 352.5 560.6 354.5 561.7 356.5 562.8 358.5 563.8 360.5 564.7 362.5 565.5 364.5 566.3 366.5 567 368.5 567.6 370.5 568.2 372.5 568.7 374.5 569.2 376.5 569.6 378.5 570 380.5 570.3 382.5 570.5 384.5 570.7 386.5 570.7 388.5 570.7 390.5 570.7 392.5 570.5 394.5 570.4 396.5 570.2 398.5 570 400.5 569.7 402.5 569.4 404.5 569.1 406.5 568.8 408.5 568.4 410.5 568 412.5 567.5 414.5 567 416.5 566.6 418.5 566.1 420.5 565.7 422.5 565.3 424.5 565 426.5 564.6 428.5 564.3 430.5 564 432.5 563.7 434.5 563.4 436.5 563.2 438.5 562.9 440.5 562.7 442.5 562.5 444.5 562.3 446.5 562.2 448.5 562.1 450.5 562.1 452.5 562.1 454.5 562.2 456.5 562.4 458.5 562.8 460.5 563.2 462.5 563.8 464.5 564.4 466.5 565.1 468.5 565.9 470.5 566.7 472.5 567.6 474.5 568.5 476.5 569.5 478.5 570.6 480.5 571.7 482.5 573 484.5 574.4 486.5 575.8 488.5 577.3 490.5 578.9 492.5 580.5 494.5 582.1 496.5 583.7 498.5 585.3 500.5 586.9 502.5 588.6 504.5 590.3 506.5 592.1 508.5 593.8 510.5 595.7 512.5 597.6 514.5 599.5 516.5 601.5 518.5 603.6 520.5 605.7 522.5 607.9 524.5 610.3 526.5 612.6 528.5 615.1 530.5 617.5 532.5 620 534.5 622.5 536.5 624.9 538.5 627.4 540.5 629.7 542.5 632.1 544.5 634.4 546.5 636.7 548.5 639 550.5 641.3 552.5 643.5 554.5 645.7 556.5 647.9 558.5 649.9 560.5 651.9 562.5 653.9 564.5 655.8 566.5 657.6 568.5 659.4 570.5 661.1 572.5 662.8 574.5 664.5 576.5 666 578.5 667.5 580.5 668.9 582.5 670.2 584.5 671.5 586.5 672.7 588.5 673.8 590.5 674.9 592.5 675.9 594.5 676.9 596.5 677.8 598.5 678.7 600.5 679.4 602.5 680.1 604.5 680.7 606.5 681.2 608.5 681.6 610.5 682 612.5 682.4 614.5 682.7 616.5 683 618.5 683.2 620.5 683.5 622.5 683.7 624.5 683.9 626.5 684.2 628.5 684.4 630.5 684.6 632.5 684.8 634.5 685 636.5 685.3 638.5 685.5 640.5 685.8 642.5 686.1 644.5 686.4 646.5 686.7 648.5 687 650.5 687.4 652.5 687.7 654.5 688 656.5 688.3 658.5 688.6 660.5 688.9 662.5 689.1 664.5 689.4 666.5 689.6 668.5 689.8 670.5 689.9 672.5 690.1 674.5 690.2 676.5 690.3 678.5 690.4 680.5 690.6 682.5 690.7 684.5 690.7 686.5 690.8 688.5 690.9 690.5 691 692.5 691 694.5 691.1 696.5 691.2 698.5 691.2 700.5 691.3 702.5 691.3 704.5 691.4 706.5 691.4 708.5 691.5 710.5 691.5 712.5 691.6 714.5 691.6 716.5 691.6 718.5 691.7 720.5 691.7 722.5 691.7 724.5 691.7 726.5 691.8 728.5 691.8 730.5 691.8 732.5 691.8 734.5 691.8 736.5 691.8 738.5 691.8 740.5 691.8 742.5 691.9 744.5 691.9 746.5 691.9 748.5 691.9 750.5 691.9 752.5 691.9 754.5 691.9 756.5 691.9 758.5 691.9 760.5 691.9 762.5 691.9 764.5 692 766.5 692 768.5 692 770.5 692 772.5 692 774.5 692 776.5 692 778.5 692 780.5 692 782.5 692 784.5 692 786.5 692 788.5 692 790.5 692 792.5 692 794.5 692.1 796.5 692.1 798.5 692.1 800.5 692.1 802.5 692.1 804.5 692.1 806.5 692.1 808.5 692.1 810.5 692.1 812.5 692.1 814.5 692.1 816.5 692.1 818.5 692.1 820.5 692.1 822.5 692.1 824.5 692.1 826.5 692.1 828.5 692.1 830.5 692.1 832.5 692.1 834.5 692.1 836.5 692.1 838.5 692.2 840.5 692.2 842.5 692.2 844.5 692.2 846.5 692.2 848.5 692.2 850.5 692.2 852.5 692.2 854.5 692.2 856.5 692.2 858.5 692.2 860.5 692.2 862.5 692.2 864.5 692.2 866.5 692.2 868.5 692.2 870.5 692.2 872.5 692.2 874.5 692.2 876.5 692.2 878.5 692.2 880.5 692.2 882.5 692.2 884.5 692.2 886.5 692.2 888.5 692.2 890.5 692.2 892.5 692.2 894.5 692.2 896.5 692.2 898.5 692.2 900.5 692.2 902.4 692.2 L902.4 693.5 Z" fill="none" stroke="#b3b3b3" stroke-width="6.6" stroke-linejoin="round"/><path d="M86.2 431.2 V706.1 H941" fill="none" stroke="#222" stroke-width="4.4" stroke-linejoin="round" stroke-linecap="butt"/><text x="67" y="705.8" text-anchor="end" class="tl">0.00</text><text x="67" y="643.2" text-anchor="end" class="tl">0.05</text><text x="67" y="580.7" text-anchor="end" class="tl">0.10</text><text x="67" y="518.1" text-anchor="end" class="tl">0.15</text><text x="67" y="455.6" text-anchor="end" class="tl">0.20</text><text x="124.5" y="749.6" text-anchor="middle" class="tl">0</text><text x="319" y="749.6" text-anchor="middle" class="tl">5</text><text x="513.5" y="749.6" text-anchor="middle" class="tl">10</text><text x="707.9" y="749.6" text-anchor="middle" class="tl">15</text><text x="902.4" y="749.6" text-anchor="middle" class="tl">20</text><path d="M75.2 693.5H86.2 M75.2 631H86.2 M75.2 568.4H86.2 M75.2 505.9H86.2 M75.2 443.3H86.2 M124.5 706.1V717.1 M319 706.1V717.1 M513.5 706.1V717.1 M707.9 706.1V717.1 M902.4 706.1V717.1" stroke="#333" stroke-width="4.0" fill="none"/><text x="518.4" y="800" text-anchor="middle" class="tt">Household size</text></g>
<g><path d="M1182 693.5 L1182 533.9 1184 518.3 1186 499 1188 481 1190 467.3 1192 459 1194 454.2 1196 452.1 1198 452.8 1200 455.9 1202 461 1204 469.3 1206 480.9 1208 493.7 1210 506.7 1212 520.7 1214 536 1216 552.3 1218 568.9 1220 584.5 1222 597 1224 607 1226 615.4 1228 622.7 1230 629.3 1232 635.4 1234 640.9 1236 646 1238 650.7 1240 655.2 1242 659.4 1244 663.4 1246 667 1248 670.1 1250 672.7 1252 675 1254 677.3 1256 679.3 1258 681 1260 682.3 1262 683.1 1264 683.3 1266 683.3 1268 683.1 1270 682.8 1272 682.4 1274 682.1 1276 681.6 1278 681.2 1280 680.8 1282 680.4 1284 680 1286 679.5 1288 679.1 1290 678.5 1292 678 1294 677.4 1296 676.6 1298 675.7 1300 674.8 1302 674 1304 673.5 1306 673.3 1308 673.5 1310 674 1312 674.6 1314 675.4 1316 676.2 1318 677 1320 677.8 1322 678.7 1324 679.6 1326 680.6 1328 681.4 1330 682 1332 682.4 1334 682.5 1336 682.4 1338 682.3 1340 682.1 1342 682 1344 681.8 1346 681.8 1348 681.7 1350 681.9 1352 682.2 1354 682.7 1356 683.3 1358 683.8 1360 684.4 1362 684.8 1364 685 1366 685.1 1368 685.1 1370 685.1 1372 685.2 1374 685.3 1376 685.4 1378 685.6 1380 685.8 1382 686 1384 686.2 1386 686.4 1388 686.5 1390 686.6 1392 686.5 1394 686.2 1396 685.6 1398 684.9 1400 683.9 1402 682.8 1404 681.7 1406 680.7 1408 679.7 1410 678.8 1412 678.1 1414 677.7 1416 677.6 1418 677.8 1420 678.2 1422 678.9 1424 679.6 1426 680.4 1428 681.1 1430 681.8 1432 682.3 1434 682.8 1436 683.4 1438 683.9 1440 684.4 1442 685 1444 685.5 1446 686 1448 686.4 1450 686.9 1452 687.2 1454 687.5 1456 687.8 1458 688 1460 688.1 1462 688.1 1464 688.1 1466 688.1 1468 688 1470 688 1472 687.9 1474 687.9 1476 687.8 1478 687.7 1480 687.7 1482 687.6 1484 687.5 1486 687.4 1488 687.3 1490 687.3 1492 687.2 1494 687.1 1496 687 1498 686.9 1500 686.8 1502 686.8 1504 686.7 1506 686.6 1508 686.6 1510 686.5 1512 686.4 1514 686.4 1516 686.3 1518 686.2 1520 686.1 1522 686.1 1524 686 1526 685.9 1528 685.9 1530 685.8 1532 685.8 1534 685.8 1536 685.7 1538 685.7 1540 685.7 1542 685.8 1544 686 1546 686.2 1548 686.5 1550 686.9 1552 687.3 1554 687.7 1556 688.1 1558 688.4 1560 688.7 1562 688.9 1564 689 1566 689 1568 689 1570 689 1572 689 1574 689 1576 689 1578 689 1580 689 1582 689 1584 689 1586 689 1588 689 1590 689 1592 689 1594 689 1596 689 1598 689 1600 688.9 1602 688.8 1604 688.6 1606 688.4 1608 688.1 1610 687.8 1612 687.5 1614 687.2 1616 687 1618 686.8 1620 686.7 1622 686.6 1624 686.6 1626 686.7 1628 686.9 1630 687.1 1632 687.3 1634 687.5 1636 687.8 1638 688 1640 688.2 1642 688.5 1644 688.7 1646 688.8 1648 688.9 1650 689 1652 689.1 1654 689.1 1656 689.1 1658 689.2 1660 689.2 1662 689.2 1664 689.3 1666 689.3 1668 689.3 1670 689.4 1672 689.4 1674 689.4 1676 689.4 1678 689.5 1680 689.5 1682 689.5 1684 689.5 1686 689.5 1688 689.5 1690 689.6 1692 689.6 1694 689.6 1696 689.6 1698 689.6 1700 689.6 1702 689.6 1704 689.6 1706 689.6 1708 689.5 1710 689.4 1712 689.3 1714 689.2 1716 689.1 1718 688.9 1720 688.8 1722 688.7 1724 688.5 1726 688.4 1728 688.3 1730 688.2 1732 688.1 1734 688.1 1736 688.1 1738 688.1 1740 688.2 1742 688.2 1744 688.2 1746 688.3 1748 688.4 1750 688.4 1752 688.5 1754 688.5 1756 688.6 1758 688.6 1760 688.7 1762 688.7 1764 688.7 1766 688.7 1768 688.7 1770 688.7 1772 688.6 1774 688.6 1776 688.6 1778 688.5 1780 688.5 1782 688.4 1784 688.4 1786 688.3 1788 688.3 1790 688.2 1792 688.2 1794 688.2 1796 688.1 1798 688.1 1800 688.1 1802 688.1 1804 688.2 1806 688.2 1808 688.4 1810 688.5 1812 688.7 1814 688.8 1816 689 1818 689.2 1820 689.3 1822 689.5 1824 689.5 1826 689.6 1828 689.6 1830 689.7 1832 689.7 1834 689.7 1836 689.7 1838 689.8 1840 689.8 1842 689.8 1844 689.8 1846 689.9 1848 689.9 1850 689.9 1852 689.9 1854 690 1856 690 1858 690 1860 690 1862 690 1864 690.1 1866 690.1 1868 690.1 1870 690.1 1872 690.1 1874 690.2 1876 690.2 1878 690.2 1880 690.2 1882 690.2 1884 690.2 1886 690.3 1888 690.3 1890 690.3 1892 690.3 1894 690.3 1896 690.3 1898 690.3 1900 690.3 1902 690.4 1904 690.4 1906 690.4 1908 690.4 1910 690.4 1912 690.4 1914 690.4 1916 690.4 1918 690.4 1920 690.4 1922 690.4 1924 690.4 1926 690.5 1928 690.5 1930 690.5 1932 690.5 1934 690.5 1936 690.5 1938 690.5 1940 690.5 1942 690.5 1944 690.5 1946 690.5 1948 690.5 1950 690.5 1952 690.5 1954 690.5 1956 690.5 1958 690.5 1959.9 690.5 L1959.9 693.5 Z" fill="none" stroke="#000000" stroke-width="6.4" stroke-linejoin="round"/><path d="M1182 693.5 L1182 594.8 1184 592.1 1186 588.5 1188 584.7 1190 581 1192 577.5 1194 574 1196 570.6 1198 567.4 1200 564.8 1202 563 1204 562.1 1206 562 1208 562.5 1210 563.3 1212 564.5 1214 566 1216 568.1 1218 570.8 1220 574.2 1222 578.1 1224 582.1 1226 586.1 1228 590.3 1230 594.5 1232 598.9 1234 603.3 1236 607.5 1238 611.7 1240 615.7 1242 619.7 1244 623.5 1246 627.1 1248 630.5 1250 633.7 1252 636.7 1254 639.5 1256 642.1 1258 644.6 1260 646.9 1262 649 1264 650.9 1266 652.6 1268 654.1 1270 655.6 1272 657 1274 658.3 1276 659.5 1278 660.8 1280 662.1 1282 663.3 1284 664.6 1286 665.8 1288 667 1290 668.2 1292 669.4 1294 670.6 1296 671.8 1298 673 1300 674.2 1302 675.4 1304 676.7 1306 677.9 1308 679.1 1310 680.3 1312 681.4 1314 682.4 1316 683.4 1318 684.4 1320 685.4 1322 686.3 1324 687.1 1326 687.9 1328 688.5 1330 689 1332 689.4 1334 689.7 1336 690 1338 690.3 1340 690.5 1342 690.7 1344 690.8 1346 690.9 1348 691 1350 691 1352 691 1354 691 1356 690.9 1358 690.9 1360 690.9 1362 690.8 1364 690.8 1366 690.7 1368 690.6 1370 690.6 1372 690.5 1374 690.4 1376 690.3 1378 690.2 1380 690.1 1382 690 1384 689.9 1386 689.8 1388 689.7 1390 689.6 1392 689.5 1394 689.4 1396 689.3 1398 689.1 1400 689 1402 688.9 1404 688.7 1406 688.6 1408 688.4 1410 688.2 1412 687.9 1414 687.7 1416 687.4 1418 687.1 1420 686.8 1422 686.5 1424 686.1 1426 685.6 1428 685 1430 684.4 1432 683.8 1434 683.3 1436 682.8 1438 682.4 1440 682 1442 681.8 1444 681.6 1446 681.4 1448 681.2 1450 681 1452 680.9 1454 680.7 1456 680.6 1458 680.6 1460 680.5 1462 680.5 1464 680.6 1466 680.7 1468 680.8 1470 681 1472 681.2 1474 681.5 1476 681.7 1478 682 1480 682.3 1482 682.6 1484 682.9 1486 683.3 1488 683.8 1490 684.4 1492 684.9 1494 685.5 1496 686.1 1498 686.7 1500 687.3 1502 687.8 1504 688.2 1506 688.5 1508 688.8 1510 689.1 1512 689.3 1514 689.6 1516 689.8 1518 690 1520 690.2 1522 690.4 1524 690.5 1526 690.7 1528 690.8 1530 690.9 1532 691 1534 691 1536 691.1 1538 691.1 1540 691.1 1542 691.1 1544 691.1 1546 691.1 1548 691.1 1550 691.1 1552 691.1 1554 691.1 1556 691.1 1558 691.1 1560 691.1 1562 691.1 1564 691.1 1566 691.1 1568 691.1 1570 691.1 1572 691.1 1574 691.1 1576 691.1 1578 691.1 1580 691.1 1582 691.1 1584 691.1 1586 691.1 1588 691.1 1590 691.1 1592 691.1 1594 691.1 1596 691.1 1598 691.1 1600 691.1 1602 691.1 1604 691.1 1606 691.1 1608 691.1 1610 691.1 1612 691.1 1614 691.1 1616 691.1 1618 691.1 1620 691.1 1622 691.1 1624 691.1 1626 691.1 1628 691.1 1630 691.1 1632 691.1 1634 691.1 1636 691.1 1638 691.1 1640 691.1 1642 691.1 1644 691.1 1646 691.1 1648 691.1 1650 691.1 1652 691.1 1654 691.1 1656 691.1 1658 691.1 1660 691.1 1662 691.1 1664 691.1 1666 691.1 1668 691.1 1670 691.1 1672 691.1 1674 691.1 1676 691.1 1678 691.1 1680 691.1 1682 691.1 1684 691.1 1686 691.1 1688 691.1 1690 691 1692 690.8 1694 690.6 1696 690.2 1698 689.8 1700 689.3 1702 688.8 1704 688.2 1706 687.7 1708 687.2 1710 686.6 1712 686.1 1714 685.6 1716 685 1718 684.4 1720 683.8 1722 683.1 1724 682.6 1726 682 1728 681.5 1730 681.1 1732 680.8 1734 680.6 1736 680.4 1738 680.3 1740 680.2 1742 680.1 1744 680.1 1746 680 1748 679.9 1750 679.8 1752 679.8 1754 679.7 1756 679.7 1758 679.7 1760 679.6 1762 679.6 1764 679.6 1766 679.6 1768 679.6 1770 679.6 1772 679.7 1774 679.7 1776 679.7 1778 679.8 1780 679.8 1782 679.9 1784 680 1786 680.1 1788 680.1 1790 680.2 1792 680.3 1794 680.5 1796 680.6 1798 680.9 1800 681.3 1802 681.8 1804 682.4 1806 683 1808 683.7 1810 684.4 1812 685.1 1814 685.8 1816 686.4 1818 687 1820 687.6 1822 688.2 1824 688.9 1826 689.5 1828 690 1830 690.4 1832 690.8 1834 691 1836 691.1 1838 691.1 1840 691.2 1842 691.2 1844 691.2 1846 691.2 1848 691.2 1850 691.3 1852 691.3 1854 691.3 1856 691.3 1858 691.3 1860 691.4 1862 691.4 1864 691.4 1866 691.4 1868 691.4 1870 691.4 1872 691.5 1874 691.5 1876 691.5 1878 691.5 1880 691.5 1882 691.5 1884 691.5 1886 691.5 1888 691.6 1890 691.6 1892 691.6 1894 691.6 1896 691.6 1898 691.6 1900 691.6 1902 691.6 1904 691.6 1906 691.6 1908 691.6 1910 691.6 1912 691.6 1914 691.6 1916 691.7 1918 691.7 1920 691.7 1922 691.7 1924 691.7 1926 691.7 1928 691.7 1930 691.7 1932 691.7 1934 691.7 1936 691.7 1938 691.7 1940 691.7 1942 691.7 1944 691.7 1946 691.7 1948 691.7 1950 691.7 1952 691.7 1954 691.7 1956 691.7 1958 691.7 1959.9 691.7 L1959.9 693.5 Z" fill="none" stroke="#b3b3b3" stroke-width="6.6" stroke-linejoin="round"/><path d="M1143.7 431.2 V706.1 H1998.5" fill="none" stroke="#222" stroke-width="4.4" stroke-linejoin="round" stroke-linecap="butt"/><text x="1124.5" y="705.8" text-anchor="end" class="tl">0</text><text x="1124.5" y="622.4" text-anchor="end" class="tl">1</text><text x="1124.5" y="539.1" text-anchor="end" class="tl">2</text><text x="1124.5" y="455.7" text-anchor="end" class="tl">3</text><text x="1182" y="749.6" text-anchor="middle" class="tl">0</text><text x="1337.6" y="749.6" text-anchor="middle" class="tl">1</text><text x="1493.2" y="749.6" text-anchor="middle" class="tl">2</text><text x="1648.7" y="749.6" text-anchor="middle" class="tl">3</text><text x="1804.3" y="749.6" text-anchor="middle" class="tl">4</text><text x="1959.9" y="749.6" text-anchor="middle" class="tl">5</text><path d="M1132.7 693.5H1143.7 M1132.7 610.1H1143.7 M1132.7 526.8H1143.7 M1132.7 443.4H1143.7 M1182 706.1V717.1 M1337.6 706.1V717.1 M1493.2 706.1V717.1 M1648.7 706.1V717.1 M1804.3 706.1V717.1 M1959.9 706.1V717.1" stroke="#333" stroke-width="4.0" fill="none"/><text x="1570.7" y="800" text-anchor="middle" class="tt">Livestock holding (TLU)</text></g>
<g><path d="M124.5 1112.2 L124.5 1104.6 126.5 1104.4 128.5 1104.1 130.5 1103.7 132.5 1103.4 134.5 1103 136.5 1102.7 138.5 1102.3 140.5 1102 142.5 1101.7 144.5 1101.4 146.5 1101.1 148.5 1100.8 150.5 1100.6 152.5 1100.4 154.5 1100.2 156.5 1100 158.5 1099.8 160.5 1099.7 162.5 1099.6 164.5 1099.5 166.5 1099.5 168.5 1099.4 170.5 1099.4 172.5 1099.3 174.5 1099.2 176.5 1099.2 178.5 1099.2 180.5 1099.1 182.5 1099.1 184.5 1099 186.5 1099 188.5 1099 190.5 1098.9 192.5 1098.9 194.5 1098.9 196.5 1098.8 198.5 1098.8 200.5 1098.8 202.5 1098.8 204.5 1098.7 206.5 1098.7 208.5 1098.7 210.5 1098.7 212.5 1098.6 214.5 1098.6 216.5 1098.6 218.5 1098.5 220.5 1098.5 222.5 1098.5 224.5 1098.5 226.5 1098.4 228.5 1098.4 230.5 1098.4 232.5 1098.3 234.5 1098.3 236.5 1098.3 238.5 1098.2 240.5 1098.2 242.5 1098.2 244.5 1098.2 246.5 1098.1 248.5 1098.1 250.5 1098.1 252.5 1098.1 254.5 1098 256.5 1098 258.5 1098 260.5 1098 262.5 1098 264.5 1097.9 266.5 1097.9 268.5 1097.9 270.5 1097.9 272.5 1097.9 274.5 1097.9 276.5 1097.9 278.5 1097.9 280.5 1097.9 282.5 1097.9 284.5 1097.9 286.5 1097.9 288.5 1097.9 290.5 1097.9 292.5 1097.9 294.5 1097.9 296.5 1097.9 298.5 1097.9 300.5 1097.9 302.5 1097.9 304.5 1097.9 306.5 1097.9 308.5 1097.9 310.5 1097.9 312.5 1097.9 314.5 1097.9 316.5 1097.9 318.5 1097.9 320.5 1097.9 322.5 1097.9 324.5 1097.9 326.5 1097.9 328.5 1097.9 330.5 1097.9 332.5 1097.9 334.5 1097.9 336.5 1097.8 338.5 1097.8 340.5 1097.8 342.5 1097.7 344.5 1097.7 346.5 1097.6 348.5 1097.6 350.5 1097.5 352.5 1097.4 354.5 1097.4 356.5 1097.3 358.5 1097.2 360.5 1097.1 362.5 1097 364.5 1096.8 366.5 1096.6 368.5 1096.4 370.5 1096.2 372.5 1095.9 374.5 1095.6 376.5 1095.3 378.5 1095 380.5 1094.6 382.5 1094.2 384.5 1093.7 386.5 1093.2 388.5 1092.7 390.5 1092 392.5 1091.4 394.5 1090.6 396.5 1089.8 398.5 1089 400.5 1088 402.5 1087.1 404.5 1086 406.5 1084.8 408.5 1083.5 410.5 1082 412.5 1080.5 414.5 1078.9 416.5 1077.1 418.5 1075.3 420.5 1073.4 422.5 1071.5 424.5 1069.4 426.5 1067.1 428.5 1064.8 430.5 1062.4 432.5 1059.8 434.5 1057.1 436.5 1054.2 438.5 1051.2 440.5 1048.1 442.5 1045 444.5 1041.8 446.5 1038.6 448.5 1035.5 450.5 1032.5 452.5 1029.6 454.5 1026.7 456.5 1023.8 458.5 1020.8 460.5 1017.7 462.5 1014.5 464.5 1011.1 466.5 1007.5 468.5 1003.7 470.5 999.8 472.5 995.7 474.5 991.3 476.5 986.7 478.5 981.8 480.5 976.6 482.5 971.2 484.5 965.7 486.5 960.3 488.5 955.2 490.5 950.5 492.5 946.1 494.5 942 496.5 938.1 498.5 934.6 500.5 931.2 502.5 928.1 504.5 925.3 506.5 922.6 508.5 920 510.5 917.7 512.5 915.6 514.5 913.7 516.5 912.2 518.5 911 520.5 910 522.5 909.4 524.5 908.8 526.5 908.4 528.5 908.2 530.5 908 532.5 907.9 534.5 908.1 536.5 908.4 538.5 908.9 540.5 909.7 542.5 910.6 544.5 911.6 546.5 912.8 548.5 914.1 550.5 915.5 552.5 917.1 554.5 918.9 556.5 920.9 558.5 922.9 560.5 925.1 562.5 927.3 564.5 929.5 566.5 931.8 568.5 934.1 570.5 936.4 572.5 938.8 574.5 941.3 576.5 943.8 578.5 946.3 580.5 948.9 582.5 951.6 584.5 954.4 586.5 957.2 588.5 960 590.5 962.9 592.5 965.7 594.5 968.4 596.5 971.1 598.5 973.8 600.5 976.5 602.5 979.1 604.5 981.7 606.5 984.2 608.5 986.7 610.5 989.1 612.5 991.5 614.5 993.8 616.5 996.1 618.5 998.3 620.5 1000.3 622.5 1002.3 624.5 1004.2 626.5 1005.9 628.5 1007.6 630.5 1009.1 632.5 1010.6 634.5 1011.9 636.5 1013 638.5 1014 640.5 1014.9 642.5 1015.6 644.5 1016.3 646.5 1016.8 648.5 1017.3 650.5 1017.7 652.5 1017.9 654.5 1018.1 656.5 1018.1 658.5 1018.2 660.5 1018.2 662.5 1018.2 664.5 1018.2 666.5 1018.2 668.5 1018.1 670.5 1018 672.5 1017.8 674.5 1017.6 676.5 1017.2 678.5 1016.8 680.5 1016.4 682.5 1015.9 684.5 1015.4 686.5 1014.9 688.5 1014.4 690.5 1013.9 692.5 1013.4 694.5 1012.9 696.5 1012.4 698.5 1011.8 700.5 1011.3 702.5 1010.7 704.5 1010.2 706.5 1009.7 708.5 1009.2 710.5 1008.7 712.5 1008.3 714.5 1007.9 716.5 1007.6 718.5 1007.4 720.5 1007.2 722.5 1007.1 724.5 1007 726.5 1006.9 728.5 1006.8 730.5 1006.7 732.5 1006.6 734.5 1006.6 736.5 1006.6 738.5 1006.6 740.5 1006.6 742.5 1006.6 744.5 1006.7 746.5 1006.8 748.5 1007 750.5 1007.2 752.5 1007.4 754.5 1007.7 756.5 1007.9 758.5 1008.2 760.5 1008.5 762.5 1008.8 764.5 1009.1 766.5 1009.4 768.5 1009.8 770.5 1010.2 772.5 1010.5 774.5 1010.9 776.5 1011.3 778.5 1011.6 780.5 1011.9 782.5 1012.2 784.5 1012.4 786.5 1012.6 788.5 1012.9 790.5 1013.1 792.5 1013.3 794.5 1013.4 796.5 1013.6 798.5 1013.7 800.5 1013.8 802.5 1013.8 804.5 1013.9 806.5 1013.9 808.5 1013.8 810.5 1013.8 812.5 1013.8 814.5 1013.7 816.5 1013.7 818.5 1013.6 820.5 1013.5 822.5 1013.4 824.5 1013.3 826.5 1013.2 828.5 1013 830.5 1012.8 832.5 1012.6 834.5 1012.3 836.5 1012.1 838.5 1011.9 840.5 1011.7 842.5 1011.6 844.5 1011.5 846.5 1011.5 848.5 1011.5 850.5 1011.6 852.5 1011.7 854.5 1011.8 856.5 1011.9 858.5 1012.1 860.5 1012.3 862.5 1012.5 864.5 1012.7 866.5 1013 868.5 1013.3 870.5 1013.7 872.5 1014.1 874.5 1014.7 876.5 1015.2 878.5 1015.9 880.5 1016.6 882.5 1017.4 884.5 1018.2 886.5 1019.1 888.5 1020 890.5 1021.1 892.5 1022.3 894.5 1023.6 896.5 1024.9 898.5 1026.2 900.5 1027.4 902.4 1028.4 L902.4 1112.2 Z" fill="none" stroke="#000000" stroke-width="6.4" stroke-linejoin="round"/><path d="M124.5 1112.2 L124.5 1089 126.5 1088.8 128.5 1088.6 130.5 1088.4 132.5 1088.2 134.5 1087.9 136.5 1087.7 138.5 1087.5 140.5 1087.2 142.5 1087 144.5 1086.7 146.5 1086.5 148.5 1086.3 150.5 1086.1 152.5 1085.8 154.5 1085.6 156.5 1085.4 158.5 1085.2 160.5 1085 162.5 1084.8 164.5 1084.6 166.5 1084.5 168.5 1084.3 170.5 1084.1 172.5 1083.9 174.5 1083.8 176.5 1083.6 178.5 1083.4 180.5 1083.3 182.5 1083.1 184.5 1083 186.5 1082.9 188.5 1082.7 190.5 1082.6 192.5 1082.5 194.5 1082.3 196.5 1082.2 198.5 1082.1 200.5 1081.9 202.5 1081.8 204.5 1081.7 206.5 1081.6 208.5 1081.5 210.5 1081.3 212.5 1081.2 214.5 1081.1 216.5 1081 218.5 1080.9 220.5 1080.7 222.5 1080.6 224.5 1080.5 226.5 1080.4 228.5 1080.2 230.5 1080.1 232.5 1080 234.5 1079.9 236.5 1079.7 238.5 1079.6 240.5 1079.5 242.5 1079.4 244.5 1079.2 246.5 1079.1 248.5 1079 250.5 1078.9 252.5 1078.7 254.5 1078.6 256.5 1078.5 258.5 1078.4 260.5 1078.2 262.5 1078.1 264.5 1078 266.5 1077.9 268.5 1077.7 270.5 1077.6 272.5 1077.5 274.5 1077.4 276.5 1077.2 278.5 1077.1 280.5 1077 282.5 1076.8 284.5 1076.7 286.5 1076.5 288.5 1076.4 290.5 1076.2 292.5 1076.1 294.5 1075.9 296.5 1075.7 298.5 1075.6 300.5 1075.4 302.5 1075.2 304.5 1075 306.5 1074.8 308.5 1074.6 310.5 1074.4 312.5 1074.2 314.5 1074 316.5 1073.8 318.5 1073.6 320.5 1073.3 322.5 1073.1 324.5 1072.8 326.5 1072.6 328.5 1072.4 330.5 1072.1 332.5 1071.8 334.5 1071.6 336.5 1071.3 338.5 1071 340.5 1070.7 342.5 1070.4 344.5 1070.1 346.5 1069.8 348.5 1069.5 350.5 1069.1 352.5 1068.8 354.5 1068.4 356.5 1068.1 358.5 1067.7 360.5 1067.3 362.5 1066.9 364.5 1066.5 366.5 1066.1 368.5 1065.7 370.5 1065.3 372.5 1064.9 374.5 1064.4 376.5 1064 378.5 1063.6 380.5 1063.1 382.5 1062.6 384.5 1062.2 386.5 1061.7 388.5 1061.2 390.5 1060.6 392.5 1060.1 394.5 1059.5 396.5 1058.9 398.5 1058.2 400.5 1057.5 402.5 1056.8 404.5 1056 406.5 1055.2 408.5 1054.3 410.5 1053.3 412.5 1052.3 414.5 1051.3 416.5 1050.3 418.5 1049.2 420.5 1048.1 422.5 1047 424.5 1045.9 426.5 1044.7 428.5 1043.6 430.5 1042.4 432.5 1041.2 434.5 1040 436.5 1038.8 438.5 1037.5 440.5 1036.3 442.5 1034.9 444.5 1033.6 446.5 1032.3 448.5 1031 450.5 1029.6 452.5 1028.3 454.5 1026.9 456.5 1025.6 458.5 1024.3 460.5 1022.9 462.5 1021.6 464.5 1020.3 466.5 1019 468.5 1017.6 470.5 1016.3 472.5 1015 474.5 1013.6 476.5 1012.3 478.5 1011 480.5 1009.7 482.5 1008.4 484.5 1007.2 486.5 1005.9 488.5 1004.7 490.5 1003.5 492.5 1002.2 494.5 1001 496.5 999.8 498.5 998.6 500.5 997.4 502.5 996.2 504.5 995 506.5 993.9 508.5 992.8 510.5 991.7 512.5 990.7 514.5 989.8 516.5 988.9 518.5 988.1 520.5 987.3 522.5 986.6 524.5 985.9 526.5 985.2 528.5 984.5 530.5 983.9 532.5 983.3 534.5 982.7 536.5 982.2 538.5 981.6 540.5 981.2 542.5 980.7 544.5 980.3 546.5 979.9 548.5 979.6 550.5 979.3 552.5 979 554.5 978.7 556.5 978.5 558.5 978.3 560.5 978.2 562.5 978.1 564.5 978 566.5 978 568.5 978 570.5 978.1 572.5 978.2 574.5 978.3 576.5 978.4 578.5 978.6 580.5 978.7 582.5 978.9 584.5 979.1 586.5 979.3 588.5 979.5 590.5 979.7 592.5 979.9 594.5 980.2 596.5 980.5 598.5 980.7 600.5 981 602.5 981.3 604.5 981.6 606.5 981.9 608.5 982.2 610.5 982.5 612.5 982.8 614.5 983.1 616.5 983.4 618.5 983.7 620.5 984.1 622.5 984.4 624.5 984.8 626.5 985.1 628.5 985.5 630.5 985.9 632.5 986.3 634.5 986.7 636.5 987.1 638.5 987.5 640.5 988 642.5 988.5 644.5 989 646.5 989.5 648.5 990.1 650.5 990.6 652.5 991.2 654.5 991.8 656.5 992.4 658.5 993.1 660.5 993.7 662.5 994.4 664.5 995 666.5 995.7 668.5 996.4 670.5 997 672.5 997.7 674.5 998.4 676.5 999.1 678.5 999.8 680.5 1000.5 682.5 1001.3 684.5 1002 686.5 1002.8 688.5 1003.5 690.5 1004.4 692.5 1005.2 694.5 1006.1 696.5 1006.9 698.5 1007.9 700.5 1008.9 702.5 1009.9 704.5 1011 706.5 1012.2 708.5 1013.4 710.5 1014.6 712.5 1015.9 714.5 1017.3 716.5 1018.6 718.5 1020 720.5 1021.3 722.5 1022.6 724.5 1023.9 726.5 1025.2 728.5 1026.5 730.5 1027.7 732.5 1028.9 734.5 1030.1 736.5 1031.3 738.5 1032.4 740.5 1033.6 742.5 1034.7 744.5 1035.8 746.5 1036.8 748.5 1037.8 750.5 1038.7 752.5 1039.6 754.5 1040.5 756.5 1041.3 758.5 1042.1 760.5 1042.9 762.5 1043.6 764.5 1044.3 766.5 1044.9 768.5 1045.4 770.5 1045.9 772.5 1046.3 774.5 1046.6 776.5 1047 778.5 1047.2 780.5 1047.5 782.5 1047.7 784.5 1047.9 786.5 1048.1 788.5 1048.2 790.5 1048.3 792.5 1048.3 794.5 1048.3 796.5 1048.2 798.5 1048.1 800.5 1048 802.5 1047.8 804.5 1047.5 806.5 1047.3 808.5 1047 810.5 1046.7 812.5 1046.4 814.5 1046 816.5 1045.6 818.5 1045.1 820.5 1044.6 822.5 1044 824.5 1043.4 826.5 1042.7 828.5 1042 830.5 1041.4 832.5 1040.7 834.5 1040.1 836.5 1039.5 838.5 1038.9 840.5 1038.3 842.5 1037.8 844.5 1037.2 846.5 1036.7 848.5 1036.1 850.5 1035.6 852.5 1035.1 854.5 1034.7 856.5 1034.2 858.5 1033.8 860.5 1033.4 862.5 1032.9 864.5 1032.5 866.5 1032.2 868.5 1031.8 870.5 1031.6 872.5 1031.3 874.5 1031.2 876.5 1031.1 878.5 1031.1 880.5 1031 882.5 1031.1 884.5 1031.1 886.5 1031.2 888.5 1031.2 890.5 1031.3 892.5 1031.5 894.5 1031.7 896.5 1031.9 898.5 1032.1 900.5 1032.3 902.4 1032.5 L902.4 1112.2 Z" fill="none" stroke="#b3b3b3" stroke-width="6.6" stroke-linejoin="round"/><path d="M86.2 849.9 V1124.8 H941" fill="none" stroke="#222" stroke-width="4.4" stroke-linejoin="round" stroke-linecap="butt"/><text x="67" y="1124.5" text-anchor="end" class="tl">0</text><text x="67" y="1041.1" text-anchor="end" class="tl">1</text><text x="67" y="957.6" text-anchor="end" class="tl">2</text><text x="67" y="874.2" text-anchor="end" class="tl">3</text><text x="124.5" y="1170" text-anchor="middle" class="tl">0.00</text><text x="319" y="1170" text-anchor="middle" class="tl">0.25</text><text x="513.5" y="1170" text-anchor="middle" class="tl">0.50</text><text x="707.9" y="1170" text-anchor="middle" class="tl">0.75</text><text x="902.4" y="1170" text-anchor="middle" class="tl">1.00</text><path d="M75.2 1112.2H86.2 M75.2 1028.8H86.2 M75.2 945.3H86.2 M75.2 861.9H86.2 M124.5 1124.8V1135.8 M319 1124.8V1135.8 M513.5 1124.8V1135.8 M707.9 1124.8V1135.8 M902.4 1124.8V1135.8" stroke="#333" stroke-width="4.0" fill="none"/><text x="512.7" y="1217.2" text-anchor="middle" class="tt">Female control of decisions</text></g>
<g><path d="M1182 1112.2 L1182 1075.4 1184 1074.2 1186 1072.7 1188 1071 1190 1069 1192 1067 1194 1065 1196 1062.9 1198 1060.7 1200 1058.6 1202 1056.4 1204 1054.2 1206 1051.9 1208 1049.7 1210 1047.4 1212 1045 1214 1042.6 1216 1040.1 1218 1037.6 1220 1034.9 1222 1032.2 1224 1029.3 1226 1026.3 1228 1023.1 1230 1019.9 1232 1016.6 1234 1013.3 1236 1009.9 1238 1006.6 1240 1003.2 1242 999.9 1244 996.6 1246 993.2 1248 989.8 1250 986.2 1252 982.5 1254 978.6 1256 974.4 1258 970.1 1260 965.6 1262 960.9 1264 956.3 1266 951.6 1268 947.1 1270 942.5 1272 938.1 1274 933.7 1276 929.4 1278 925.1 1280 920.9 1282 916.8 1284 912.8 1286 908.8 1288 904.9 1290 901.1 1292 897.3 1294 893.7 1296 890.3 1298 887.1 1300 884.2 1302 881.5 1304 879 1306 876.7 1308 874.5 1310 872.5 1312 870.7 1314 869.1 1316 867.9 1318 867 1320 866.4 1322 866.1 1324 866 1326 866.1 1328 866.3 1330 866.6 1332 866.9 1334 867.3 1336 867.8 1338 868.5 1340 869.4 1342 870.6 1344 872 1346 873.6 1348 875.4 1350 877.3 1352 879.3 1354 881.4 1356 883.6 1358 885.9 1360 888.2 1362 890.7 1364 893.3 1366 895.9 1368 898.6 1370 901.3 1372 904 1374 906.9 1376 909.7 1378 912.6 1380 915.5 1382 918.5 1384 921.4 1386 924.3 1388 927.2 1390 930 1392 932.8 1394 935.5 1396 938.2 1398 940.9 1400 943.6 1402 946.2 1404 948.7 1406 951.2 1408 953.6 1410 956 1412 958.2 1414 960.4 1416 962.4 1418 964.5 1420 966.5 1422 968.4 1424 970.4 1426 972.3 1428 974.2 1430 976.2 1432 978.1 1434 980.1 1436 982.1 1438 984 1440 986 1442 988 1444 990 1446 992 1448 994 1450 996.1 1452 998.2 1454 1000.3 1456 1002.5 1458 1004.7 1460 1007 1462 1009.2 1464 1011.5 1466 1013.7 1468 1015.9 1470 1018 1472 1020.1 1474 1022.1 1476 1024.1 1478 1026.1 1480 1028 1482 1029.9 1484 1031.7 1486 1033.4 1488 1035 1490 1036.4 1492 1037.8 1494 1038.9 1496 1040 1498 1041 1500 1041.9 1502 1042.7 1504 1043.5 1506 1044.2 1508 1044.8 1510 1045.4 1512 1045.9 1514 1046.3 1516 1046.6 1518 1046.9 1520 1047.1 1522 1047.4 1524 1047.5 1526 1047.7 1528 1047.9 1530 1048.1 1532 1048.3 1534 1048.5 1536 1048.8 1538 1049.1 1540 1049.5 1542 1049.9 1544 1050.4 1546 1050.9 1548 1051.4 1550 1051.9 1552 1052.5 1554 1053.1 1556 1053.7 1558 1054.3 1560 1054.9 1562 1055.6 1564 1056.2 1566 1056.9 1568 1057.6 1570 1058.4 1572 1059.1 1574 1059.9 1576 1060.7 1578 1061.5 1580 1062.3 1582 1063.2 1584 1064.1 1586 1065.1 1588 1066.1 1590 1067.1 1592 1068.1 1594 1069 1596 1069.9 1598 1070.6 1600 1071.3 1602 1071.9 1604 1072.4 1606 1072.9 1608 1073.3 1610 1073.8 1612 1074.1 1614 1074.5 1616 1074.8 1618 1075.1 1620 1075.3 1622 1075.5 1624 1075.6 1626 1075.7 1628 1075.6 1630 1075.6 1632 1075.4 1634 1075.2 1636 1075 1638 1074.7 1640 1074.4 1642 1074 1644 1073.7 1646 1073.3 1648 1073 1650 1072.7 1652 1072.3 1654 1072 1656 1071.7 1658 1071.4 1660 1071.1 1662 1070.8 1664 1070.5 1666 1070.2 1668 1069.9 1670 1069.7 1672 1069.4 1674 1069.1 1676 1068.9 1678 1068.7 1680 1068.6 1682 1068.5 1684 1068.4 1686 1068.5 1688 1068.5 1690 1068.7 1692 1068.9 1694 1069.2 1696 1069.6 1698 1070 1700 1070.4 1702 1070.9 1704 1071.5 1706 1072 1708 1072.7 1710 1073.5 1712 1074.3 1714 1075.3 1716 1076.3 1718 1077.4 1720 1078.5 1722 1079.6 1724 1080.7 1726 1081.8 1728 1082.8 1730 1083.8 1732 1084.8 1734 1085.8 1736 1086.7 1738 1087.7 1740 1088.6 1742 1089.4 1744 1090.3 1746 1091 1748 1091.8 1750 1092.5 1752 1093.1 1754 1093.8 1756 1094.4 1758 1095 1760 1095.6 1762 1096 1764 1096.4 1766 1096.7 1768 1096.8 1770 1096.8 1772 1096.8 1774 1096.6 1776 1096.3 1778 1096 1780 1095.6 1782 1095.3 1784 1094.9 1786 1094.6 1788 1094.3 1790 1094.1 1792 1093.9 1794 1093.8 1796 1093.7 1798 1093.6 1800 1093.5 1802 1093.4 1804 1093.3 1806 1093.2 1808 1093.2 1810 1093.1 1812 1093 1814 1093 1816 1093 1818 1092.9 1820 1093 1822 1093 1824 1093.1 1826 1093.2 1828 1093.3 1830 1093.5 1832 1093.8 1834 1094.1 1836 1094.4 1838 1094.7 1840 1095.1 1842 1095.4 1844 1095.7 1846 1096.1 1848 1096.4 1850 1096.7 1852 1097 1854 1097.2 1856 1097.5 1858 1097.8 1860 1098 1862 1098.3 1864 1098.6 1866 1098.8 1868 1099.1 1870 1099.3 1872 1099.5 1874 1099.7 1876 1099.9 1878 1100 1880 1100.1 1882 1100.2 1884 1100.2 1886 1100.1 1888 1100 1890 1099.9 1892 1099.7 1894 1099.4 1896 1099.1 1898 1098.8 1900 1098.4 1902 1098 1904 1097.6 1906 1097.1 1908 1096.7 1910 1096.2 1912 1095.8 1914 1095.3 1916 1094.8 1918 1094.3 1920 1093.8 1922 1093.2 1924 1092.6 1926 1092 1928 1091.4 1930 1090.9 1932 1090.5 1934 1090.2 1936 1090 1938 1089.9 1940 1089.8 1942 1089.8 1944 1089.8 1946 1089.8 1948 1089.8 1950 1089.8 1952 1089.8 1954 1089.8 1956 1089.8 1958 1089.8 1959.9 1089.8 L1959.9 1112.2 Z" fill="none" stroke="#000000" stroke-width="6.4" stroke-linejoin="round"/><path d="M1182 1112.2 L1182 1059.8 1184 1058.7 1186 1057.2 1188 1055.6 1190 1053.7 1192 1051.8 1194 1049.8 1196 1047.8 1198 1045.8 1200 1043.8 1202 1041.7 1204 1039.7 1206 1037.6 1208 1035.4 1210 1033.3 1212 1031.1 1214 1028.9 1216 1026.6 1218 1024.3 1220 1022 1222 1019.6 1224 1017.1 1226 1014.6 1228 1012 1230 1009.3 1232 1006.7 1234 1004 1236 1001.3 1238 998.7 1240 996.2 1242 993.8 1244 991.5 1246 989.2 1248 987 1250 984.9 1252 982.9 1254 980.9 1256 978.9 1258 977 1260 975.1 1262 973.3 1264 971.4 1266 969.6 1268 967.9 1270 966.2 1272 964.5 1274 962.8 1276 961.2 1278 959.6 1280 958.1 1282 956.7 1284 955.3 1286 954 1288 952.8 1290 951.5 1292 950.3 1294 949.2 1296 948.1 1298 947.1 1300 946.2 1302 945.4 1304 944.8 1306 944.3 1308 943.9 1310 943.5 1312 943.2 1314 943 1316 942.7 1318 942.5 1320 942.4 1322 942.2 1324 942.2 1326 942.2 1328 942.2 1330 942.4 1332 942.7 1334 943.1 1336 943.5 1338 944.1 1340 944.7 1342 945.3 1344 946 1346 946.7 1348 947.5 1350 948.3 1352 949.2 1354 950.2 1356 951.3 1358 952.4 1360 953.6 1362 954.8 1364 956 1366 957.2 1368 958.4 1370 959.6 1372 960.8 1374 962 1376 963.2 1378 964.5 1380 965.7 1382 966.9 1384 968.1 1386 969.3 1388 970.4 1390 971.4 1392 972.5 1394 973.5 1396 974.5 1398 975.5 1400 976.4 1402 977.3 1404 978.2 1406 979 1408 979.7 1410 980.4 1412 981.1 1414 981.7 1416 982.3 1418 982.9 1420 983.4 1422 983.9 1424 984.4 1426 984.8 1428 985.3 1430 985.7 1432 986.1 1434 986.5 1436 986.8 1438 987.2 1440 987.6 1442 987.9 1444 988.2 1446 988.5 1448 988.7 1450 988.9 1452 989 1454 989.1 1456 989.2 1458 989.2 1460 989.3 1462 989.3 1464 989.4 1466 989.4 1468 989.4 1470 989.4 1472 989.5 1474 989.5 1476 989.5 1478 989.6 1480 989.6 1482 989.7 1484 989.8 1486 989.9 1488 990 1490 990.2 1492 990.4 1494 990.6 1496 990.9 1498 991.2 1500 991.5 1502 991.8 1504 992.2 1506 992.5 1508 992.9 1510 993.3 1512 993.7 1514 994.1 1516 994.6 1518 995 1520 995.6 1522 996.1 1524 996.7 1526 997.4 1528 998 1530 998.7 1532 999.5 1534 1000.2 1536 1000.9 1538 1001.7 1540 1002.4 1542 1003.2 1544 1003.9 1546 1004.6 1548 1005.4 1550 1006.1 1552 1006.8 1554 1007.6 1556 1008.3 1558 1009 1560 1009.6 1562 1010.2 1564 1010.8 1566 1011.4 1568 1012 1570 1012.6 1572 1013.2 1574 1013.9 1576 1014.7 1578 1015.4 1580 1016.2 1582 1017.1 1584 1017.9 1586 1018.8 1588 1019.7 1590 1020.6 1592 1021.6 1594 1022.5 1596 1023.4 1598 1024.3 1600 1025.2 1602 1026.1 1604 1026.9 1606 1027.7 1608 1028.6 1610 1029.4 1612 1030.2 1614 1031 1616 1031.8 1618 1032.6 1620 1033.4 1622 1034.1 1624 1034.9 1626 1035.6 1628 1036.3 1630 1037 1632 1037.7 1634 1038.4 1636 1039.1 1638 1039.7 1640 1040.4 1642 1041.1 1644 1041.8 1646 1042.5 1648 1043.2 1650 1043.9 1652 1044.6 1654 1045.3 1656 1046 1658 1046.7 1660 1047.4 1662 1048.1 1664 1048.8 1666 1049.5 1668 1050.2 1670 1050.9 1672 1051.6 1674 1052.3 1676 1053 1678 1053.7 1680 1054.4 1682 1055.1 1684 1055.8 1686 1056.5 1688 1057.2 1690 1057.9 1692 1058.6 1694 1059.3 1696 1060 1698 1060.7 1700 1061.4 1702 1062.1 1704 1062.8 1706 1063.6 1708 1064.3 1710 1065.1 1712 1065.8 1714 1066.6 1716 1067.4 1718 1068.2 1720 1069 1722 1069.8 1724 1070.6 1726 1071.5 1728 1072.4 1730 1073.3 1732 1074.3 1734 1075.3 1736 1076.3 1738 1077.4 1740 1078.4 1742 1079.4 1744 1080.4 1746 1081.4 1748 1082.3 1750 1083.2 1752 1084.1 1754 1085 1756 1085.8 1758 1086.7 1760 1087.5 1762 1088.2 1764 1089 1766 1089.7 1768 1090.4 1770 1091.1 1772 1091.8 1774 1092.4 1776 1093.1 1778 1093.7 1780 1094.3 1782 1094.8 1784 1095.4 1786 1096 1788 1096.5 1790 1097.1 1792 1097.6 1794 1098.2 1796 1098.7 1798 1099.3 1800 1099.8 1802 1100.3 1804 1100.8 1806 1101.3 1808 1101.7 1810 1102.2 1812 1102.5 1814 1102.9 1816 1103.3 1818 1103.6 1820 1103.9 1822 1104.3 1824 1104.5 1826 1104.8 1828 1105 1830 1105.3 1832 1105.5 1834 1105.7 1836 1105.8 1838 1106 1840 1106.1 1842 1106.3 1844 1106.4 1846 1106.6 1848 1106.7 1850 1106.8 1852 1106.9 1854 1107.1 1856 1107.2 1858 1107.3 1860 1107.4 1862 1107.5 1864 1107.6 1866 1107.7 1868 1107.7 1870 1107.8 1872 1107.9 1874 1108 1876 1108.1 1878 1108.2 1880 1108.3 1882 1108.3 1884 1108.4 1886 1108.5 1888 1108.6 1890 1108.7 1892 1108.8 1894 1108.8 1896 1108.9 1898 1109 1900 1109.1 1902 1109.1 1904 1109.2 1906 1109.3 1908 1109.4 1910 1109.4 1912 1109.5 1914 1109.6 1916 1109.6 1918 1109.7 1920 1109.8 1922 1109.8 1924 1109.9 1926 1110 1928 1110 1930 1110.1 1932 1110.1 1934 1110.2 1936 1110.2 1938 1110.3 1940 1110.3 1942 1110.4 1944 1110.4 1946 1110.5 1948 1110.5 1950 1110.5 1952 1110.6 1954 1110.6 1956 1110.6 1958 1110.7 1959.9 1110.7 L1959.9 1112.2 Z" fill="none" stroke="#b3b3b3" stroke-width="6.6" stroke-linejoin="round"/><path d="M1143.7 849.9 V1124.8 H1998.5" fill="none" stroke="#222" stroke-width="4.4" stroke-linejoin="round" stroke-linecap="butt"/><text x="1124.5" y="1124.5" text-anchor="end" class="tl">0.00</text><text x="1124.5" y="1061.9" text-anchor="end" class="tl">0.25</text><text x="1124.5" y="999.3" text-anchor="end" class="tl">0.50</text><text x="1124.5" y="936.8" text-anchor="end" class="tl">0.75</text><text x="1124.5" y="874.2" text-anchor="end" class="tl">1.00</text><text x="1182" y="1170" text-anchor="middle" class="tl">0</text><text x="1441.3" y="1170" text-anchor="middle" class="tl">1</text><text x="1700.6" y="1170" text-anchor="middle" class="tl">2</text><text x="1959.9" y="1170" text-anchor="middle" class="tl">3</text><path d="M1132.7 1112.2H1143.7 M1132.7 1049.6H1143.7 M1132.7 987H1143.7 M1132.7 924.5H1143.7 M1132.7 861.9H1143.7 M1182 1124.8V1135.8 M1441.3 1124.8V1135.8 M1700.6 1124.8V1135.8 M1959.9 1124.8V1135.8" stroke="#333" stroke-width="4.0" fill="none"/><text x="1570.7" y="1217.2" text-anchor="middle" class="tt">Land cultivated (Ha)</text></g>
<g><path d="M124.5 1530.9 L124.5 1519.2 126.5 1518.7 128.5 1518.2 130.5 1517.5 132.5 1516.8 134.5 1516 136.5 1515.1 138.5 1514.2 140.5 1513.3 142.5 1512.3 144.5 1511.3 146.5 1510.3 148.5 1509.2 150.5 1508.1 152.5 1507 154.5 1505.8 156.5 1504.6 158.5 1503.3 160.5 1501.9 162.5 1500.5 164.5 1499.1 166.5 1497.6 168.5 1496.1 170.5 1494.6 172.5 1493 174.5 1491.4 176.5 1489.7 178.5 1488.1 180.5 1486.3 182.5 1484.6 184.5 1482.8 186.5 1480.9 188.5 1479.1 190.5 1477.1 192.5 1475.2 194.5 1473.2 196.5 1471.1 198.5 1469 200.5 1466.9 202.5 1464.7 204.5 1462.5 206.5 1460.2 208.5 1458 210.5 1455.7 212.5 1453.5 214.5 1451.3 216.5 1449 218.5 1446.8 220.5 1444.6 222.5 1442.5 224.5 1440.3 226.5 1438.1 228.5 1435.8 230.5 1433.6 232.5 1431.4 234.5 1429.1 236.5 1426.8 238.5 1424.5 240.5 1422.1 242.5 1419.8 244.5 1417.4 246.5 1415 248.5 1412.6 250.5 1410.1 252.5 1407.7 254.5 1405.2 256.5 1402.7 258.5 1400.2 260.5 1397.6 262.5 1395 264.5 1392.4 266.5 1389.8 268.5 1387.2 270.5 1384.6 272.5 1382 274.5 1379.4 276.5 1376.9 278.5 1374.3 280.5 1371.8 282.5 1369.3 284.5 1366.9 286.5 1364.4 288.5 1362 290.5 1359.6 292.5 1357.3 294.5 1354.9 296.5 1352.7 298.5 1350.4 300.5 1348.2 302.5 1346 304.5 1343.8 306.5 1341.7 308.5 1339.6 310.5 1337.6 312.5 1335.7 314.5 1333.8 316.5 1332.1 318.5 1330.4 320.5 1328.8 322.5 1327.3 324.5 1325.8 326.5 1324.4 328.5 1323 330.5 1321.8 332.5 1320.6 334.5 1319.6 336.5 1318.7 338.5 1317.9 340.5 1317.3 342.5 1316.8 344.5 1316.4 346.5 1316 348.5 1315.7 350.5 1315.5 352.5 1315.4 354.5 1315.3 356.5 1315.4 358.5 1315.7 360.5 1316 362.5 1316.4 364.5 1317 366.5 1317.6 368.5 1318.3 370.5 1319.1 372.5 1320.1 374.5 1321.2 376.5 1322.6 378.5 1324.1 380.5 1325.8 382.5 1327.6 384.5 1329.6 386.5 1331.7 388.5 1333.9 390.5 1336.1 392.5 1338.5 394.5 1340.9 396.5 1343.5 398.5 1346.2 400.5 1349.1 402.5 1352 404.5 1355 406.5 1357.9 408.5 1360.7 410.5 1363.5 412.5 1366.1 414.5 1368.6 416.5 1370.9 418.5 1373.2 420.5 1375.4 422.5 1377.5 424.5 1379.6 426.5 1381.7 428.5 1383.7 430.5 1385.7 432.5 1387.7 434.5 1389.6 436.5 1391.6 438.5 1393.6 440.5 1395.7 442.5 1397.7 444.5 1399.6 446.5 1401.5 448.5 1403.2 450.5 1404.9 452.5 1406.4 454.5 1407.8 456.5 1409 458.5 1410.1 460.5 1411.1 462.5 1411.9 464.5 1412.7 466.5 1413.3 468.5 1414 470.5 1414.5 472.5 1415 474.5 1415.5 476.5 1416 478.5 1416.4 480.5 1416.8 482.5 1417.2 484.5 1417.6 486.5 1418 488.5 1418.4 490.5 1418.8 492.5 1419.2 494.5 1419.7 496.5 1420.2 498.5 1420.8 500.5 1421.4 502.5 1422 504.5 1422.7 506.5 1423.5 508.5 1424.3 510.5 1425.2 512.5 1426.2 514.5 1427.2 516.5 1428.4 518.5 1429.6 520.5 1430.9 522.5 1432.2 524.5 1433.6 526.5 1435.1 528.5 1436.6 530.5 1438.2 532.5 1439.8 534.5 1441.4 536.5 1443.1 538.5 1444.8 540.5 1446.6 542.5 1448.4 544.5 1450.2 546.5 1452 548.5 1453.9 550.5 1455.8 552.5 1457.7 554.5 1459.5 556.5 1461.4 558.5 1463.3 560.5 1465.1 562.5 1467 564.5 1468.8 566.5 1470.7 568.5 1472.5 570.5 1474.3 572.5 1476.1 574.5 1477.9 576.5 1479.7 578.5 1481.5 580.5 1483.3 582.5 1485.1 584.5 1486.9 586.5 1488.7 588.5 1490.4 590.5 1492.2 592.5 1493.8 594.5 1495.4 596.5 1496.9 598.5 1498.4 600.5 1499.7 602.5 1500.9 604.5 1502 606.5 1503.1 608.5 1504.1 610.5 1505 612.5 1505.9 614.5 1506.8 616.5 1507.5 618.5 1508.2 620.5 1508.7 622.5 1509 624.5 1509.3 626.5 1509.4 628.5 1509.4 630.5 1509.3 632.5 1509.2 634.5 1509 636.5 1508.8 638.5 1508.6 640.5 1508.3 642.5 1508 644.5 1507.7 646.5 1507.3 648.5 1506.9 650.5 1506.4 652.5 1505.8 654.5 1505.1 656.5 1504.4 658.5 1503.6 660.5 1502.9 662.5 1502 664.5 1501.2 666.5 1500.4 668.5 1499.6 670.5 1498.8 672.5 1498 674.5 1497.2 676.5 1496.4 678.5 1495.6 680.5 1494.8 682.5 1494 684.5 1493.2 686.5 1492.5 688.5 1491.7 690.5 1491 692.5 1490.2 694.5 1489.5 696.5 1488.8 698.5 1488.1 700.5 1487.5 702.5 1486.9 704.5 1486.3 706.5 1485.8 708.5 1485.3 710.5 1484.9 712.5 1484.5 714.5 1484.2 716.5 1483.8 718.5 1483.5 720.5 1483.2 722.5 1483 724.5 1482.8 726.5 1482.6 728.5 1482.6 730.5 1482.5 732.5 1482.6 734.5 1482.7 736.5 1482.9 738.5 1483.2 740.5 1483.5 742.5 1483.8 744.5 1484.2 746.5 1484.6 748.5 1485 750.5 1485.5 752.5 1486 754.5 1486.6 756.5 1487.3 758.5 1488.1 760.5 1488.9 762.5 1489.7 764.5 1490.6 766.5 1491.5 768.5 1492.4 770.5 1493.3 772.5 1494.1 774.5 1495 776.5 1495.8 778.5 1496.6 780.5 1497.4 782.5 1498.2 784.5 1499 786.5 1499.8 788.5 1500.6 790.5 1501.3 792.5 1502 794.5 1502.7 796.5 1503.4 798.5 1504.1 800.5 1504.7 802.5 1505.3 804.5 1506 806.5 1506.5 808.5 1507.1 810.5 1507.6 812.5 1508.2 814.5 1508.7 816.5 1509.1 818.5 1509.6 820.5 1510 822.5 1510.5 824.5 1510.9 826.5 1511.3 828.5 1511.6 830.5 1512 832.5 1512.3 834.5 1512.6 836.5 1512.9 838.5 1513.2 840.5 1513.5 842.5 1513.7 844.5 1514 846.5 1514.2 848.5 1514.4 850.5 1514.6 852.5 1514.9 854.5 1515.1 856.5 1515.3 858.5 1515.5 860.5 1515.7 862.5 1515.9 864.5 1516.1 866.5 1516.3 868.5 1516.5 870.5 1516.7 872.5 1516.9 874.5 1517.1 876.5 1517.3 878.5 1517.6 880.5 1517.8 882.5 1518.1 884.5 1518.4 886.5 1518.7 888.5 1519 890.5 1519.4 892.5 1519.7 894.5 1520 896.5 1520.4 898.5 1520.7 900.5 1521 902.4 1521.2 L902.4 1530.9 Z" fill="none" stroke="#000000" stroke-width="6.4" stroke-linejoin="round"/><path d="M124.5 1530.9 L124.5 1514.3 126.5 1513.9 128.5 1513.3 130.5 1512.5 132.5 1511.7 134.5 1510.8 136.5 1509.8 138.5 1508.8 140.5 1507.8 142.5 1506.7 144.5 1505.6 146.5 1504.4 148.5 1503.2 150.5 1502 152.5 1500.7 154.5 1499.4 156.5 1498 158.5 1496.5 160.5 1494.9 162.5 1493.3 164.5 1491.6 166.5 1489.9 168.5 1488.2 170.5 1486.4 172.5 1484.6 174.5 1482.8 176.5 1480.9 178.5 1479 180.5 1477.1 182.5 1475.1 184.5 1473.1 186.5 1471.1 188.5 1469 190.5 1466.9 192.5 1464.8 194.5 1462.7 196.5 1460.6 198.5 1458.4 200.5 1456.2 202.5 1454 204.5 1451.8 206.5 1449.6 208.5 1447.4 210.5 1445.2 212.5 1442.9 214.5 1440.7 216.5 1438.4 218.5 1436.1 220.5 1433.8 222.5 1431.5 224.5 1429.2 226.5 1426.9 228.5 1424.7 230.5 1422.6 232.5 1420.6 234.5 1418.7 236.5 1416.9 238.5 1415.2 240.5 1413.6 242.5 1412 244.5 1410.5 246.5 1409.1 248.5 1407.7 250.5 1406.4 252.5 1405.2 254.5 1404 256.5 1402.9 258.5 1401.9 260.5 1400.8 262.5 1399.8 264.5 1398.9 266.5 1398 268.5 1397.2 270.5 1396.4 272.5 1395.8 274.5 1395.3 276.5 1394.9 278.5 1394.6 280.5 1394.4 282.5 1394.2 284.5 1394 286.5 1393.9 288.5 1393.8 290.5 1393.7 292.5 1393.6 294.5 1393.6 296.5 1393.6 298.5 1393.6 300.5 1393.7 302.5 1393.8 304.5 1393.9 306.5 1394.1 308.5 1394.3 310.5 1394.5 312.5 1394.8 314.5 1395 316.5 1395.3 318.5 1395.5 320.5 1395.8 322.5 1396 324.5 1396.2 326.5 1396.5 328.5 1396.7 330.5 1397 332.5 1397.2 334.5 1397.4 336.5 1397.5 338.5 1397.6 340.5 1397.6 342.5 1397.6 344.5 1397.6 346.5 1397.5 348.5 1397.5 350.5 1397.4 352.5 1397.3 354.5 1397.1 356.5 1397 358.5 1396.9 360.5 1396.7 362.5 1396.5 364.5 1396.2 366.5 1395.9 368.5 1395.6 370.5 1395.2 372.5 1394.8 374.5 1394.3 376.5 1393.8 378.5 1393.3 380.5 1392.8 382.5 1392.3 384.5 1391.7 386.5 1391 388.5 1390.4 390.5 1389.7 392.5 1388.9 394.5 1388.2 396.5 1387.5 398.5 1386.7 400.5 1386 402.5 1385.3 404.5 1384.7 406.5 1384 408.5 1383.4 410.5 1382.7 412.5 1382.1 414.5 1381.5 416.5 1380.9 418.5 1380.3 420.5 1379.8 422.5 1379.2 424.5 1378.7 426.5 1378.2 428.5 1377.7 430.5 1377.1 432.5 1376.7 434.5 1376.2 436.5 1375.8 438.5 1375.4 440.5 1375.2 442.5 1375 444.5 1374.8 446.5 1374.8 448.5 1374.7 450.5 1374.7 452.5 1374.7 454.5 1374.7 456.5 1374.7 458.5 1374.7 460.5 1374.7 462.5 1374.7 464.5 1374.8 466.5 1374.9 468.5 1375.1 470.5 1375.3 472.5 1375.7 474.5 1376.2 476.5 1376.8 478.5 1377.4 480.5 1378.1 482.5 1378.9 484.5 1379.7 486.5 1380.5 488.5 1381.3 490.5 1382.2 492.5 1383 494.5 1383.9 496.5 1384.7 498.5 1385.6 500.5 1386.5 502.5 1387.4 504.5 1388.3 506.5 1389.3 508.5 1390.3 510.5 1391.3 512.5 1392.3 514.5 1393.3 516.5 1394.3 518.5 1395.3 520.5 1396.3 522.5 1397.2 524.5 1398.1 526.5 1399.1 528.5 1400 530.5 1400.9 532.5 1401.9 534.5 1402.8 536.5 1403.7 538.5 1404.7 540.5 1405.6 542.5 1406.6 544.5 1407.6 546.5 1408.5 548.5 1409.5 550.5 1410.5 552.5 1411.5 554.5 1412.5 556.5 1413.5 558.5 1414.5 560.5 1415.5 562.5 1416.5 564.5 1417.5 566.5 1418.5 568.5 1419.5 570.5 1420.4 572.5 1421.4 574.5 1422.3 576.5 1423.2 578.5 1424.1 580.5 1425 582.5 1426 584.5 1426.9 586.5 1427.8 588.5 1428.7 590.5 1429.7 592.5 1430.6 594.5 1431.5 596.5 1432.5 598.5 1433.5 600.5 1434.5 602.5 1435.5 604.5 1436.5 606.5 1437.6 608.5 1438.7 610.5 1439.7 612.5 1440.8 614.5 1441.9 616.5 1443 618.5 1444.1 620.5 1445.1 622.5 1446.2 624.5 1447.2 626.5 1448.3 628.5 1449.3 630.5 1450.3 632.5 1451.3 634.5 1452.3 636.5 1453.3 638.5 1454.3 640.5 1455.3 642.5 1456.3 644.5 1457.3 646.5 1458.4 648.5 1459.4 650.5 1460.5 652.5 1461.5 654.5 1462.6 656.5 1463.7 658.5 1464.8 660.5 1465.9 662.5 1467 664.5 1468.2 666.5 1469.4 668.5 1470.6 670.5 1471.8 672.5 1473.1 674.5 1474.4 676.5 1475.7 678.5 1477 680.5 1478.4 682.5 1479.7 684.5 1481 686.5 1482.3 688.5 1483.5 690.5 1484.8 692.5 1486 694.5 1487.2 696.5 1488.4 698.5 1489.6 700.5 1490.8 702.5 1492 704.5 1493.2 706.5 1494.4 708.5 1495.6 710.5 1496.8 712.5 1498 714.5 1499.3 716.5 1500.5 718.5 1501.7 720.5 1503 722.5 1504.2 724.5 1505.3 726.5 1506.5 728.5 1507.6 730.5 1508.7 732.5 1509.7 734.5 1510.7 736.5 1511.7 738.5 1512.7 740.5 1513.6 742.5 1514.5 744.5 1515.4 746.5 1516.2 748.5 1516.9 750.5 1517.6 752.5 1518.3 754.5 1518.9 756.5 1519.4 758.5 1519.9 760.5 1520.4 762.5 1520.9 764.5 1521.3 766.5 1521.7 768.5 1522.1 770.5 1522.4 772.5 1522.7 774.5 1523 776.5 1523.3 778.5 1523.5 780.5 1523.8 782.5 1524 784.5 1524.2 786.5 1524.4 788.5 1524.6 790.5 1524.8 792.5 1524.9 794.5 1525.1 796.5 1525.3 798.5 1525.4 800.5 1525.5 802.5 1525.6 804.5 1525.8 806.5 1525.9 808.5 1526 810.5 1526 812.5 1526.1 814.5 1526.2 816.5 1526.3 818.5 1526.4 820.5 1526.4 822.5 1526.5 824.5 1526.6 826.5 1526.6 828.5 1526.7 830.5 1526.8 832.5 1526.8 834.5 1526.9 836.5 1527 838.5 1527 840.5 1527.1 842.5 1527.1 844.5 1527.2 846.5 1527.2 848.5 1527.3 850.5 1527.3 852.5 1527.4 854.5 1527.4 856.5 1527.5 858.5 1527.6 860.5 1527.6 862.5 1527.7 864.5 1527.7 866.5 1527.8 868.5 1527.8 870.5 1527.8 872.5 1527.9 874.5 1527.9 876.5 1528 878.5 1528 880.5 1528.1 882.5 1528.1 884.5 1528.1 886.5 1528.2 888.5 1528.2 890.5 1528.2 892.5 1528.3 894.5 1528.3 896.5 1528.3 898.5 1528.3 900.5 1528.4 902.4 1528.4 L902.4 1530.9 Z" fill="none" stroke="#b3b3b3" stroke-width="6.6" stroke-linejoin="round"/><path d="M86.2 1268.6 V1543.5 H941" fill="none" stroke="#222" stroke-width="4.4" stroke-linejoin="round" stroke-linecap="butt"/><text x="67" y="1543.2" text-anchor="end" class="tl">0.0</text><text x="67" y="1459.8" text-anchor="end" class="tl">0.1</text><text x="67" y="1376.3" text-anchor="end" class="tl">0.2</text><text x="67" y="1292.9" text-anchor="end" class="tl">0.3</text><text x="124.5" y="1586.8" text-anchor="middle" class="tl">0.0</text><text x="319" y="1586.8" text-anchor="middle" class="tl">2.5</text><text x="513.5" y="1586.8" text-anchor="middle" class="tl">5.0</text><text x="707.9" y="1586.8" text-anchor="middle" class="tl">7.5</text><text x="902.4" y="1586.8" text-anchor="middle" class="tl">10.0</text><path d="M75.2 1530.9H86.2 M75.2 1447.5H86.2 M75.2 1364H86.2 M75.2 1280.6H86.2 M124.5 1543.5V1554.5 M319 1543.5V1554.5 M513.5 1543.5V1554.5 M707.9 1543.5V1554.5 M902.4 1543.5V1554.5" stroke="#333" stroke-width="4.0" fill="none"/><text x="512.7" y="1637.4" text-anchor="middle" class="tt">Distance to urban center (walking hours)</text></g>
<g><path d="M1182 1530.9 L1182 1348.7 1184 1346.1 1186 1342.8 1188 1339.2 1190 1335.5 1192 1332 1194 1328.5 1196 1325.2 1198 1322.2 1200 1319.7 1202 1317.8 1204 1316.3 1206 1315.3 1208 1314.5 1210 1314.1 1212 1313.9 1214 1314.1 1216 1314.7 1218 1315.5 1220 1316.5 1222 1317.6 1224 1319 1226 1320.6 1228 1322.4 1230 1324.5 1232 1326.6 1234 1328.9 1236 1331.3 1238 1333.7 1240 1336.2 1242 1338.9 1244 1341.6 1246 1344.4 1248 1347.2 1250 1350 1252 1352.9 1254 1355.7 1256 1358.5 1258 1361.3 1260 1364.1 1262 1366.9 1264 1369.7 1266 1372.5 1268 1375.3 1270 1378.1 1272 1381 1274 1383.8 1276 1386.6 1278 1389.4 1280 1392.3 1282 1395.2 1284 1398 1286 1400.9 1288 1403.7 1290 1406.5 1292 1409.2 1294 1411.9 1296 1414.5 1298 1417.1 1300 1419.6 1302 1422.1 1304 1424.6 1306 1427 1308 1429.4 1310 1431.7 1312 1434 1314 1436.3 1316 1438.5 1318 1440.8 1320 1443 1322 1445.2 1324 1447.3 1326 1449.5 1328 1451.5 1330 1453.5 1332 1455.4 1334 1457.2 1336 1458.8 1338 1460.3 1340 1461.7 1342 1463 1344 1464.2 1346 1465.4 1348 1466.5 1350 1467.5 1352 1468.5 1354 1469.5 1356 1470.4 1358 1471.3 1360 1472.1 1362 1472.8 1364 1473.5 1366 1474.2 1368 1474.8 1370 1475.5 1372 1476.1 1374 1476.8 1376 1477.5 1378 1478.3 1380 1479.1 1382 1480.1 1384 1481.1 1386 1482.1 1388 1483.3 1390 1484.4 1392 1485.6 1394 1486.7 1396 1487.9 1398 1489 1400 1490.1 1402 1491.2 1404 1492.3 1406 1493.3 1408 1494.4 1410 1495.4 1412 1496.5 1414 1497.5 1416 1498.4 1418 1499.4 1420 1500.2 1422 1501.1 1424 1501.9 1426 1502.7 1428 1503.5 1430 1504.3 1432 1505 1434 1505.7 1436 1506.4 1438 1507 1440 1507.5 1442 1508 1444 1508.4 1446 1508.8 1448 1509.3 1450 1509.6 1452 1510 1454 1510.3 1456 1510.6 1458 1510.8 1460 1510.9 1462 1511 1464 1511.1 1466 1511.1 1468 1511.1 1470 1511.1 1472 1511.1 1474 1511.1 1476 1511.1 1478 1511.1 1480 1511.1 1482 1511.1 1484 1511 1486 1510.9 1488 1510.8 1490 1510.6 1492 1510.3 1494 1510.1 1496 1509.8 1498 1509.6 1500 1509.3 1502 1509.2 1504 1509.1 1506 1509 1508 1509 1510 1509 1512 1509 1514 1509 1516 1509 1518 1509 1520 1509 1522 1509 1524 1509 1526 1509.1 1528 1509.2 1530 1509.3 1532 1509.6 1534 1509.9 1536 1510.2 1538 1510.6 1540 1511 1542 1511.4 1544 1511.8 1546 1512.1 1548 1512.5 1550 1512.8 1552 1513.2 1554 1513.6 1556 1513.9 1558 1514.1 1560 1514.3 1562 1514.2 1564 1514.1 1566 1513.9 1568 1513.7 1570 1513.8 1572 1514 1574 1514.2 1576 1514.5 1578 1514.9 1580 1515.1 1582 1515.4 1584 1515.6 1586 1515.8 1588 1516 1590 1516.2 1592 1516.4 1594 1516.5 1596 1516.7 1598 1516.8 1600 1516.9 1602 1517 1604 1517.1 1606 1517.2 1608 1517.2 1610 1517.3 1612 1517.4 1614 1517.4 1616 1517.5 1618 1517.6 1620 1517.6 1622 1517.7 1624 1517.7 1626 1517.7 1628 1517.8 1630 1517.8 1632 1517.8 1634 1517.8 1636 1517.7 1638 1517.7 1640 1517.6 1642 1517.5 1644 1517.4 1646 1517.2 1648 1517.1 1650 1516.9 1652 1516.7 1654 1516.6 1656 1516.4 1658 1516.2 1660 1516.1 1662 1515.9 1664 1515.7 1666 1515.6 1668 1515.4 1670 1515.3 1672 1515.1 1674 1515 1676 1514.8 1678 1514.6 1680 1514.4 1682 1514.3 1684 1514.1 1686 1513.9 1688 1513.8 1690 1513.7 1692 1513.5 1694 1513.4 1696 1513.3 1698 1513.3 1700 1513.2 1702 1513.2 1704 1513.3 1706 1513.3 1708 1513.4 1710 1513.6 1712 1513.7 1714 1514 1716 1514.2 1718 1514.4 1720 1514.7 1722 1515 1724 1515.2 1726 1515.5 1728 1515.9 1730 1516.2 1732 1516.6 1734 1517.1 1736 1517.5 1738 1518 1740 1518.5 1742 1519 1744 1519.5 1746 1520 1748 1520.4 1750 1520.8 1752 1521.2 1754 1521.6 1756 1522 1758 1522.4 1760 1522.7 1762 1523.1 1764 1523.4 1766 1523.7 1768 1523.9 1770 1524.2 1772 1524.4 1774 1524.6 1776 1524.9 1778 1525.1 1780 1525.2 1782 1525.4 1784 1525.6 1786 1525.7 1788 1525.7 1790 1525.8 1792 1525.8 1794 1525.7 1796 1525.7 1798 1525.6 1800 1525.5 1802 1525.4 1804 1525.3 1806 1525.2 1808 1525.1 1810 1525 1812 1525 1814 1524.9 1816 1524.8 1818 1524.8 1820 1524.7 1822 1524.7 1824 1524.7 1826 1524.7 1828 1524.7 1830 1524.7 1832 1524.7 1834 1524.7 1836 1524.7 1838 1524.7 1840 1524.7 1842 1524.7 1844 1524.7 1846 1524.7 1848 1524.7 1850 1524.7 1852 1524.7 1854 1524.7 1856 1524.8 1858 1524.8 1860 1524.9 1862 1525 1864 1525.1 1866 1525.2 1868 1525.3 1870 1525.4 1872 1525.6 1874 1525.7 1876 1525.8 1878 1525.9 1880 1526 1882 1526.1 1884 1526.2 1886 1526.3 1888 1526.3 1890 1526.4 1892 1526.4 1894 1526.5 1896 1526.6 1898 1526.6 1900 1526.7 1902 1526.7 1904 1526.8 1906 1526.9 1908 1526.9 1910 1527 1912 1527 1914 1527.1 1916 1527.1 1918 1527.2 1920 1527.2 1922 1527.3 1924 1527.3 1926 1527.4 1928 1527.4 1930 1527.4 1932 1527.5 1934 1527.5 1936 1527.6 1938 1527.6 1940 1527.6 1942 1527.6 1944 1527.7 1946 1527.7 1948 1527.7 1950 1527.7 1952 1527.8 1954 1527.8 1956 1527.8 1958 1527.8 1959.9 1527.8 L1959.9 1530.9 Z" fill="none" stroke="#000000" stroke-width="6.4" stroke-linejoin="round"/><path d="M1182 1530.9 L1182 1355 1184 1352.6 1186 1349.5 1188 1346.1 1190 1343 1192 1340.3 1194 1338 1196 1336.1 1198 1334.4 1200 1333 1202 1331.7 1204 1330.6 1206 1329.7 1208 1329 1210 1328.6 1212 1328.4 1214 1328.5 1216 1328.9 1218 1329.4 1220 1330.2 1222 1331 1224 1332 1226 1333.1 1228 1334.2 1230 1335.5 1232 1337 1234 1338.8 1236 1340.8 1238 1343 1240 1345.3 1242 1347.8 1244 1350.3 1246 1352.9 1248 1355.5 1250 1358.1 1252 1360.9 1254 1363.7 1256 1366.6 1258 1369.7 1260 1372.8 1262 1375.9 1264 1379 1266 1382.1 1268 1385.2 1270 1388.1 1272 1391.1 1274 1394 1276 1396.8 1278 1399.6 1280 1402.5 1282 1405.2 1284 1408 1286 1410.8 1288 1413.5 1290 1416.2 1292 1419 1294 1421.7 1296 1424.4 1298 1427.1 1300 1429.8 1302 1432.5 1304 1435.2 1306 1437.7 1308 1440.2 1310 1442.6 1312 1444.9 1314 1447.1 1316 1449.3 1318 1451.4 1320 1453.5 1322 1455.5 1324 1457.4 1326 1459.3 1328 1461 1330 1462.7 1332 1464.2 1334 1465.6 1336 1467 1338 1468.3 1340 1469.5 1342 1470.7 1344 1471.8 1346 1472.9 1348 1473.9 1350 1474.8 1352 1475.7 1354 1476.5 1356 1477.3 1358 1478 1360 1478.7 1362 1479.3 1364 1479.9 1366 1480.5 1368 1481.1 1370 1481.6 1372 1482.1 1374 1482.6 1376 1483.1 1378 1483.6 1380 1484 1382 1484.4 1384 1484.8 1386 1485.2 1388 1485.5 1390 1485.9 1392 1486.3 1394 1486.7 1396 1487.1 1398 1487.6 1400 1488.1 1402 1488.6 1404 1489.1 1406 1489.6 1408 1490.1 1410 1490.6 1412 1491.1 1414 1491.6 1416 1492.1 1418 1492.6 1420 1493.1 1422 1493.5 1424 1494 1426 1494.5 1428 1494.9 1430 1495.4 1432 1495.8 1434 1496.2 1436 1496.6 1438 1496.9 1440 1497.2 1442 1497.5 1444 1497.7 1446 1497.9 1448 1498.1 1450 1498.3 1452 1498.5 1454 1498.7 1456 1498.8 1458 1499 1460 1499.1 1462 1499.2 1464 1499.3 1466 1499.4 1468 1499.5 1470 1499.5 1472 1499.6 1474 1499.5 1476 1499.5 1478 1499.4 1480 1499.2 1482 1499 1484 1498.7 1486 1498.5 1488 1498.2 1490 1497.9 1492 1497.6 1494 1497.4 1496 1497.1 1498 1496.9 1500 1496.7 1502 1496.6 1504 1496.6 1506 1496.5 1508 1496.5 1510 1496.5 1512 1496.5 1514 1496.5 1516 1496.5 1518 1496.5 1520 1496.5 1522 1496.5 1524 1496.5 1526 1496.6 1528 1496.8 1530 1497 1532 1497.4 1534 1497.9 1536 1498.4 1538 1499 1540 1499.6 1542 1500.3 1544 1500.9 1546 1501.6 1548 1502.3 1550 1503 1552 1503.8 1554 1504.5 1556 1505.2 1558 1505.8 1560 1506.2 1562 1506.4 1564 1506.5 1566 1506.6 1568 1506.9 1570 1507.5 1572 1508.4 1574 1509.5 1576 1510.6 1578 1511.7 1580 1512.8 1582 1513.9 1584 1515 1586 1516 1588 1516.9 1590 1517.8 1592 1518.5 1594 1519.2 1596 1519.9 1598 1520.5 1600 1521.1 1602 1521.6 1604 1522.1 1606 1522.6 1608 1523 1610 1523.3 1612 1523.6 1614 1523.9 1616 1524.1 1618 1524.3 1620 1524.6 1622 1524.7 1624 1524.9 1626 1525.1 1628 1525.3 1630 1525.4 1632 1525.6 1634 1525.7 1636 1525.8 1638 1525.9 1640 1526 1642 1526.1 1644 1526.2 1646 1526.3 1648 1526.4 1650 1526.5 1652 1526.5 1654 1526.6 1656 1526.7 1658 1526.8 1660 1526.8 1662 1526.9 1664 1526.9 1666 1527 1668 1527.1 1670 1527.1 1672 1527.2 1674 1527.2 1676 1527.2 1678 1527.3 1680 1527.3 1682 1527.4 1684 1527.4 1686 1527.4 1688 1527.4 1690 1527.4 1692 1527.5 1694 1527.5 1696 1527.5 1698 1527.5 1700 1527.6 1702 1527.6 1704 1527.6 1706 1527.6 1708 1527.6 1710 1527.7 1712 1527.7 1714 1527.7 1716 1527.7 1718 1527.7 1720 1527.8 1722 1527.8 1724 1527.8 1726 1527.8 1728 1527.8 1730 1527.8 1732 1527.9 1734 1527.9 1736 1527.9 1738 1527.9 1740 1527.9 1742 1528 1744 1528 1746 1528 1748 1528 1750 1528 1752 1528 1754 1528.1 1756 1528.1 1758 1528.1 1760 1528.1 1762 1528.1 1764 1528.1 1766 1528.2 1768 1528.2 1770 1528.2 1772 1528.2 1774 1528.2 1776 1528.2 1778 1528.2 1780 1528.3 1782 1528.3 1784 1528.3 1786 1528.3 1788 1528.3 1790 1528.3 1792 1528.3 1794 1528.4 1796 1528.4 1798 1528.4 1800 1528.4 1802 1528.4 1804 1528.4 1806 1528.4 1808 1528.4 1810 1528.5 1812 1528.5 1814 1528.5 1816 1528.5 1818 1528.5 1820 1528.5 1822 1528.5 1824 1528.5 1826 1528.5 1828 1528.6 1830 1528.6 1832 1528.6 1834 1528.6 1836 1528.6 1838 1528.6 1840 1528.6 1842 1528.6 1844 1528.6 1846 1528.6 1848 1528.7 1850 1528.7 1852 1528.7 1854 1528.7 1856 1528.7 1858 1528.7 1860 1528.7 1862 1528.7 1864 1528.7 1866 1528.7 1868 1528.7 1870 1528.7 1872 1528.7 1874 1528.8 1876 1528.8 1878 1528.8 1880 1528.8 1882 1528.8 1884 1528.8 1886 1528.8 1888 1528.8 1890 1528.8 1892 1528.8 1894 1528.8 1896 1528.8 1898 1528.8 1900 1528.8 1902 1528.8 1904 1528.8 1906 1528.8 1908 1528.8 1910 1528.9 1912 1528.9 1914 1528.9 1916 1528.9 1918 1528.9 1920 1528.9 1922 1528.9 1924 1528.9 1926 1528.9 1928 1528.9 1930 1528.9 1932 1528.9 1934 1528.9 1936 1528.9 1938 1528.9 1940 1528.9 1942 1528.9 1944 1528.9 1946 1528.9 1948 1528.9 1950 1528.9 1952 1528.9 1954 1528.9 1956 1528.9 1958 1528.9 1959.9 1528.9 L1959.9 1530.9 Z" fill="none" stroke="#b3b3b3" stroke-width="6.6" stroke-linejoin="round"/><path d="M1143.7 1268.6 V1543.5 H1998.5" fill="none" stroke="#222" stroke-width="4.4" stroke-linejoin="round" stroke-linecap="butt"/><text x="1124.5" y="1543.2" text-anchor="end" class="tl">0e+00</text><text x="1124.5" y="1493.1" text-anchor="end" class="tl">1e-04</text><text x="1124.5" y="1443.1" text-anchor="end" class="tl">2e-04</text><text x="1124.5" y="1393" text-anchor="end" class="tl">3e-04</text><text x="1124.5" y="1343" text-anchor="end" class="tl">4e-04</text><text x="1124.5" y="1292.9" text-anchor="end" class="tl">5e-04</text><text x="1182" y="1586.8" text-anchor="middle" class="tl">0</text><text x="1376.5" y="1586.8" text-anchor="middle" class="tl">2500</text><text x="1571" y="1586.8" text-anchor="middle" class="tl">5000</text><text x="1765.4" y="1586.8" text-anchor="middle" class="tl">7500</text><text x="1959.9" y="1586.8" text-anchor="middle" class="tl">10000</text><path d="M1132.7 1530.9H1143.7 M1132.7 1480.8H1143.7 M1132.7 1430.8H1143.7 M1132.7 1380.7H1143.7 M1132.7 1330.7H1143.7 M1132.7 1280.6H1143.7 M1182 1543.5V1554.5 M1376.5 1543.5V1554.5 M1571 1543.5V1554.5 M1765.4 1543.5V1554.5 M1959.9 1543.5V1554.5" stroke="#333" stroke-width="4.0" fill="none"/><text x="1570.7" y="1637.4" text-anchor="middle" class="tt">Income ($)</text></g>
<rect x="1367.5" y="7.5" width="54.5" height="54.1" fill="none" stroke="#000" stroke-width="6.5" stroke-linejoin="miter"/>
<rect x="1367.5" y="72.8" width="55" height="53.8" fill="none" stroke="#b3b3b3" stroke-width="6" stroke-linejoin="miter"/>
<text x="1426.9" y="48.2" class="lg">Sample of surveyed households</text>
<text x="1426.9" y="112.4" class="lg">Sub-sampled life-history interview</text>
</svg>
</body></html>
